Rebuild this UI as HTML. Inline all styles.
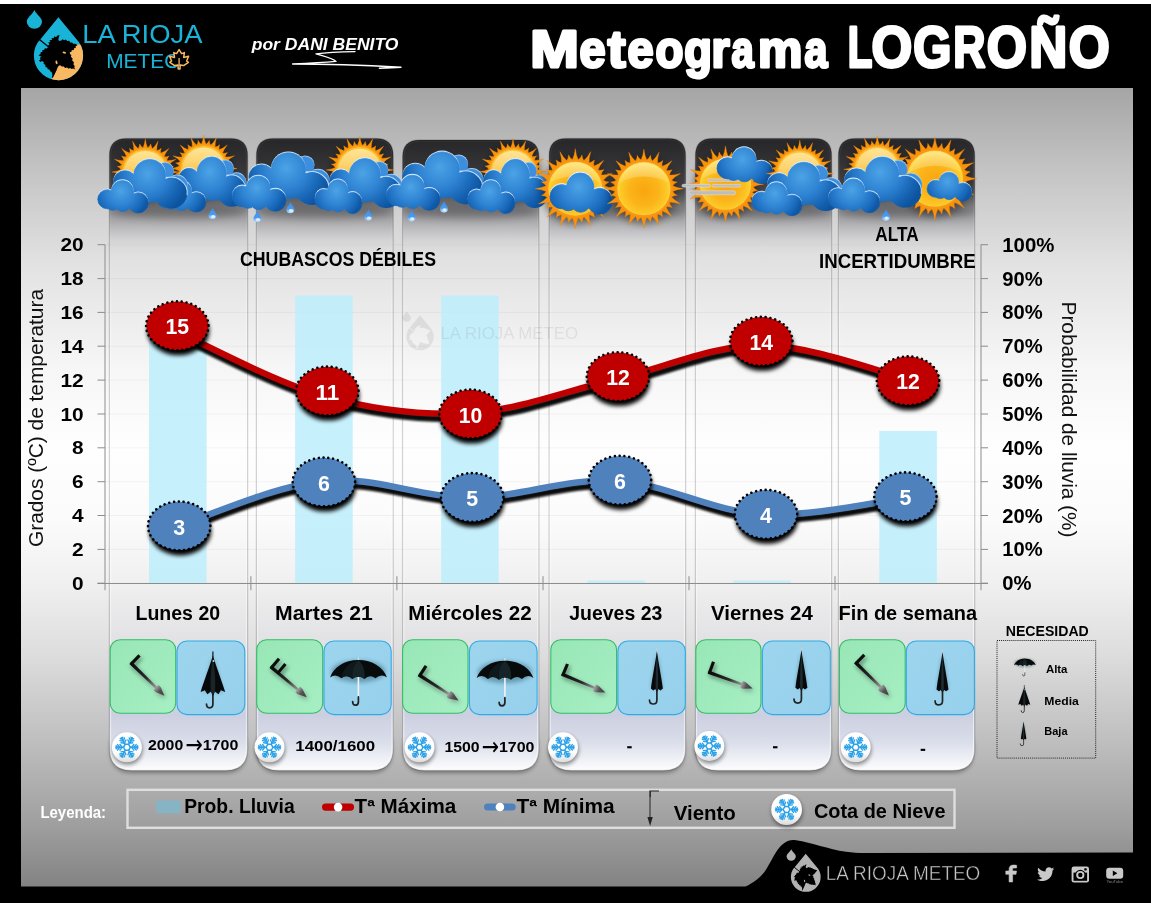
<!DOCTYPE html>
<html lang="es"><head><meta charset="utf-8"><title>Meteograma LOGROÑO</title>
<style>
html,body{margin:0;padding:0;background:#000;}
body{width:1151px;height:903px;overflow:hidden;font-family:"Liberation Sans",Arial,sans-serif;}
svg{display:block;}
text{font-family:"Liberation Sans",Arial,sans-serif;}
</style></head><body>
<svg width="1151" height="903" viewBox="0 0 1151 903">
<defs>
<linearGradient id="bgG" x1="0" y1="88" x2="0" y2="886" gradientUnits="userSpaceOnUse">
<stop offset="0" stop-color="#a5a5a5"/><stop offset="0.10" stop-color="#c3c3c3"/><stop offset="0.22" stop-color="#e2e2e2"/>
<stop offset="0.35" stop-color="#f6f6f6"/><stop offset="0.45" stop-color="#fefefe"/><stop offset="0.54" stop-color="#fbfbfb"/><stop offset="0.62" stop-color="#f0f0f0"/>
<stop offset="0.71" stop-color="#dddddd"/><stop offset="0.82" stop-color="#bebebe"/><stop offset="0.92" stop-color="#a0a0a0"/>
<stop offset="1" stop-color="#838383"/></linearGradient>
<linearGradient id="colG" x1="0" y1="138.5" x2="0" y2="770.5" gradientUnits="userSpaceOnUse">
<stop offset="0" stop-color="#262628" stop-opacity="1"/>
<stop offset="0.05" stop-color="#37373a" stop-opacity="1"/>
<stop offset="0.0815" stop-color="#47474b" stop-opacity="1"/>
<stop offset="0.097" stop-color="#646467" stop-opacity="1"/>
<stop offset="0.1116" stop-color="#838386" stop-opacity="1"/>
<stop offset="0.126" stop-color="#a1a1a4" stop-opacity="1"/>
<stop offset="0.145" stop-color="#bebec0" stop-opacity=".95"/>
<stop offset="0.16" stop-color="#d0d0d2" stop-opacity=".8"/>
<stop offset="0.18" stop-color="#dedee0" stop-opacity=".4"/>
<stop offset="0.20" stop-color="#e8e8ea" stop-opacity="0"/>
<stop offset="0.70" stop-color="#eceef4" stop-opacity="0"/>
<stop offset="0.775" stop-color="#e6e7ec" stop-opacity=".3"/>
<stop offset="0.855" stop-color="#d9dbe7" stop-opacity=".75"/>
<stop offset="0.912" stop-color="#cbcfe0" stop-opacity="1"/>
<stop offset="0.955" stop-color="#dadeea" stop-opacity="1"/>
<stop offset="1" stop-color="#fdfdfe" stop-opacity="1"/></linearGradient>
<linearGradient id="colS" x1="0" y1="138.5" x2="0" y2="770.5" gradientUnits="userSpaceOnUse"><stop offset="0" stop-color="#fff" stop-opacity="0.05"/><stop offset="0.2" stop-color="#fff" stop-opacity=".1"/><stop offset="0.3" stop-color="#fff" stop-opacity=".5"/><stop offset="1" stop-color="#fff" stop-opacity=".6"/></linearGradient>
<radialGradient id="sunD" cx="0" cy="2" r="27" gradientUnits="userSpaceOnUse">
<stop offset="0" stop-color="#f9a60e"/><stop offset="0.55" stop-color="#fbb41a"/><stop offset="0.85" stop-color="#fcc727"/><stop offset="1" stop-color="#fdd835"/></radialGradient>
<linearGradient id="sunH" x1="0" y1="-26" x2="0" y2="4" gradientUnits="userSpaceOnUse">
<stop offset="0" stop-color="#fff0c0" stop-opacity=".62"/><stop offset="1" stop-color="#ffe9a8" stop-opacity="0"/></linearGradient>
<radialGradient id="rayG" cx="0" cy="0" r="40" gradientUnits="userSpaceOnUse">
<stop offset="0.6" stop-color="#f78a00"/><stop offset="1" stop-color="#ff9e12"/></radialGradient>
<radialGradient id="cloudG" cx="34" cy="15" r="42" gradientUnits="userSpaceOnUse">
<stop offset="0" stop-color="#4ca3e5"/><stop offset="0.45" stop-color="#2f83d3"/><stop offset="0.8" stop-color="#1663b3"/><stop offset="1" stop-color="#0d549f"/></radialGradient>
<radialGradient id="cloudSG" cx="23" cy="11" r="28" gradientUnits="userSpaceOnUse">
<stop offset="0" stop-color="#4ca3e5"/><stop offset="0.5" stop-color="#2f83d3"/><stop offset="0.85" stop-color="#1868ba"/><stop offset="1" stop-color="#0f58a6"/></radialGradient>
<linearGradient id="dropG" x1="0" y1="0" x2="0" y2="11" gradientUnits="userSpaceOnUse">
<stop offset="0" stop-color="#3d8fe8"/><stop offset="0.6" stop-color="#4a9af0"/><stop offset="1" stop-color="#b5dcff"/></linearGradient>
<filter id="blur1" x="-20%" y="-20%" width="140%" height="160%"><feGaussianBlur stdDeviation="1.1"/></filter>
<filter id="blur2" x="-30%" y="-30%" width="160%" height="180%"><feGaussianBlur stdDeviation="2.2"/></filter>
<filter id="blur3" x="-30%" y="-30%" width="160%" height="180%"><feGaussianBlur stdDeviation="3.5"/></filter>
<filter id="blur6" x="-30%" y="-30%" width="160%" height="180%"><feGaussianBlur stdDeviation="6"/></filter>
<linearGradient id="greenG" x1="0" y1="0" x2="1" y2="1"><stop offset="0" stop-color="#98e6b6"/><stop offset="1" stop-color="#a6efc4"/></linearGradient>
<linearGradient id="blueG" x1="0" y1="0" x2="1" y2="1"><stop offset="0" stop-color="#9dd5ee"/><stop offset="1" stop-color="#97d0ec"/></linearGradient>
<linearGradient id="shaftG" x1="0" y1="0" x2="46" y2="0" gradientUnits="userSpaceOnUse">
<stop offset="0" stop-color="#0a0a0a"/><stop offset="0.45" stop-color="#2a2a2a"/><stop offset="0.75" stop-color="#9a9a9a"/><stop offset="0.85" stop-color="#555"/><stop offset="1" stop-color="#3a3a3a"/></linearGradient>
<linearGradient id="snowC" x1="0" y1="-15" x2="0" y2="15" gradientUnits="userSpaceOnUse">
<stop offset="0" stop-color="#ffffff"/><stop offset="0.7" stop-color="#fbfbfb"/><stop offset="1" stop-color="#dcdcdc"/></linearGradient>
<linearGradient id="umbG" x1="0" y1="0" x2="1" y2="0"><stop offset="0" stop-color="#050808"/><stop offset="0.4" stop-color="#1d2a2c"/><stop offset="0.6" stop-color="#0a1012"/><stop offset="1" stop-color="#000"/></linearGradient>

<linearGradient id="sunPD" x1="0" y1="-27" x2="0" y2="27" gradientUnits="userSpaceOnUse">
<stop offset="0" stop-color="#fee69c"/><stop offset="0.35" stop-color="#fdd572"/><stop offset="0.6" stop-color="#fcc445"/><stop offset="1" stop-color="#faad1a"/></linearGradient>
<g id="sun"><circle r="34" cy="2" fill="#000" opacity=".32" filter="url(#blur3)"/><path d="M-2.84,-28.86 Q-0.77,-32.67 0.00,-39.50 Q0.77,-32.67 2.84,-28.86 Q5.29,-30.29 6.63,-33.35 Q6.71,-30.01 8.42,-27.75 Q11.79,-30.47 15.12,-36.49 Q13.21,-29.88 13.67,-25.58 Q16.48,-25.96 18.89,-28.27 Q17.68,-25.16 18.40,-22.42 Q22.55,-23.64 27.93,-27.93 Q23.64,-22.55 22.42,-18.40 Q25.16,-17.68 28.27,-18.89 Q25.96,-16.48 25.58,-13.67 Q29.88,-13.21 36.49,-15.12 Q30.47,-11.79 27.75,-8.42 Q30.01,-6.71 33.35,-6.63 Q30.29,-5.29 28.86,-2.84 Q32.67,-0.77 39.50,0.00 Q32.67,0.77 28.86,2.84 Q30.29,5.29 33.35,6.63 Q30.01,6.71 27.75,8.42 Q30.47,11.79 36.49,15.12 Q29.88,13.21 25.58,13.67 Q25.96,16.48 28.27,18.89 Q25.16,17.68 22.42,18.40 Q23.64,22.55 27.93,27.93 Q22.55,23.64 18.40,22.42 Q17.68,25.16 18.89,28.27 Q16.48,25.96 13.67,25.58 Q13.21,29.88 15.12,36.49 Q11.79,30.47 8.42,27.75 Q6.71,30.01 6.63,33.35 Q5.29,30.29 2.84,28.86 Q0.77,32.67 0.00,39.50 Q-0.77,32.67 -2.84,28.86 Q-5.29,30.29 -6.63,33.35 Q-6.71,30.01 -8.42,27.75 Q-11.79,30.47 -15.12,36.49 Q-13.21,29.88 -13.67,25.58 Q-16.48,25.96 -18.89,28.27 Q-17.68,25.16 -18.40,22.42 Q-22.55,23.64 -27.93,27.93 Q-23.64,22.55 -22.42,18.40 Q-25.16,17.68 -28.27,18.89 Q-25.96,16.48 -25.58,13.67 Q-29.88,13.21 -36.49,15.12 Q-30.47,11.79 -27.75,8.42 Q-30.01,6.71 -33.35,6.63 Q-30.29,5.29 -28.86,2.84 Q-32.67,0.77 -39.50,0.00 Q-32.67,-0.77 -28.86,-2.84 Q-30.29,-5.29 -33.35,-6.63 Q-30.01,-6.71 -27.75,-8.42 Q-30.47,-11.79 -36.49,-15.12 Q-29.88,-13.21 -25.58,-13.67 Q-25.96,-16.48 -28.27,-18.89 Q-25.16,-17.68 -22.42,-18.40 Q-23.64,-22.55 -27.93,-27.93 Q-22.55,-23.64 -18.40,-22.42 Q-17.68,-25.16 -18.89,-28.27 Q-16.48,-25.96 -13.67,-25.58 Q-13.21,-29.88 -15.12,-36.49 Q-11.79,-30.47 -8.42,-27.75 Q-6.71,-30.01 -6.63,-33.35 Q-5.29,-30.29 -2.84,-28.86Z" fill="url(#rayG)" stroke="#f28200" stroke-width=".4"/>
<circle r="28.6" fill="#f7961a"/><circle r="26.6" fill="url(#sunD)"/>
<path d="M-24.5,-6 A25,25 0 0 1 24.5,-6 A40,30 0 0 0 -24.5,-6Z" fill="url(#sunH)"/></g>
<g id="sunP"><circle r="34" cy="2" fill="#000" opacity=".32" filter="url(#blur3)"/><path d="M-2.84,-28.86 Q-0.77,-32.67 0.00,-39.50 Q0.77,-32.67 2.84,-28.86 Q5.29,-30.29 6.63,-33.35 Q6.71,-30.01 8.42,-27.75 Q11.79,-30.47 15.12,-36.49 Q13.21,-29.88 13.67,-25.58 Q16.48,-25.96 18.89,-28.27 Q17.68,-25.16 18.40,-22.42 Q22.55,-23.64 27.93,-27.93 Q23.64,-22.55 22.42,-18.40 Q25.16,-17.68 28.27,-18.89 Q25.96,-16.48 25.58,-13.67 Q29.88,-13.21 36.49,-15.12 Q30.47,-11.79 27.75,-8.42 Q30.01,-6.71 33.35,-6.63 Q30.29,-5.29 28.86,-2.84 Q32.67,-0.77 39.50,0.00 Q32.67,0.77 28.86,2.84 Q30.29,5.29 33.35,6.63 Q30.01,6.71 27.75,8.42 Q30.47,11.79 36.49,15.12 Q29.88,13.21 25.58,13.67 Q25.96,16.48 28.27,18.89 Q25.16,17.68 22.42,18.40 Q23.64,22.55 27.93,27.93 Q22.55,23.64 18.40,22.42 Q17.68,25.16 18.89,28.27 Q16.48,25.96 13.67,25.58 Q13.21,29.88 15.12,36.49 Q11.79,30.47 8.42,27.75 Q6.71,30.01 6.63,33.35 Q5.29,30.29 2.84,28.86 Q0.77,32.67 0.00,39.50 Q-0.77,32.67 -2.84,28.86 Q-5.29,30.29 -6.63,33.35 Q-6.71,30.01 -8.42,27.75 Q-11.79,30.47 -15.12,36.49 Q-13.21,29.88 -13.67,25.58 Q-16.48,25.96 -18.89,28.27 Q-17.68,25.16 -18.40,22.42 Q-22.55,23.64 -27.93,27.93 Q-23.64,22.55 -22.42,18.40 Q-25.16,17.68 -28.27,18.89 Q-25.96,16.48 -25.58,13.67 Q-29.88,13.21 -36.49,15.12 Q-30.47,11.79 -27.75,8.42 Q-30.01,6.71 -33.35,6.63 Q-30.29,5.29 -28.86,2.84 Q-32.67,0.77 -39.50,0.00 Q-32.67,-0.77 -28.86,-2.84 Q-30.29,-5.29 -33.35,-6.63 Q-30.01,-6.71 -27.75,-8.42 Q-30.47,-11.79 -36.49,-15.12 Q-29.88,-13.21 -25.58,-13.67 Q-25.96,-16.48 -28.27,-18.89 Q-25.16,-17.68 -22.42,-18.40 Q-23.64,-22.55 -27.93,-27.93 Q-22.55,-23.64 -18.40,-22.42 Q-17.68,-25.16 -18.89,-28.27 Q-16.48,-25.96 -13.67,-25.58 Q-13.21,-29.88 -15.12,-36.49 Q-11.79,-30.47 -8.42,-27.75 Q-6.71,-30.01 -6.63,-33.35 Q-5.29,-30.29 -2.84,-28.86Z" fill="url(#rayG)" stroke="#f28200" stroke-width=".4"/>
<circle r="28.6" fill="#f8a11c"/><circle r="26.8" fill="#fbc334"/><circle r="25" fill="url(#sunPD)"/></g>
<g id="cloudB">
<g fill="#a9d3f5" transform="translate(0.3,-1.2)"><circle cx="51.3" cy="12.7" r="8.5"/><circle cx="63" cy="27.6" r="10.8"/></g><g fill="#3d8edc" stroke="#3d8edc" stroke-width=".7"><circle cx="51.3" cy="12.7" r="8.5"/><circle cx="63" cy="27.6" r="10.8"/></g>
<g fill="#d9ecfb" transform="translate(0,-1.25)"><circle cx="36.2" cy="16.5" r="16"/><circle cx="11.6" cy="23.4" r="11.6"/><circle cx="21" cy="32.5" r="10.3"/><circle cx="29" cy="32.5" r="10"/><circle cx="37" cy="33.5" r="10.3"/><circle cx="46" cy="34" r="9.5"/><rect x="11" y="19" width="48" height="21" rx="8"/></g><g fill="url(#cloudG)" stroke="url(#cloudG)" stroke-width=".7"><circle cx="36.2" cy="16.5" r="16"/><circle cx="11.6" cy="23.4" r="11.6"/><circle cx="21" cy="32.5" r="10.3"/><circle cx="29" cy="32.5" r="10"/><circle cx="37" cy="33.5" r="10.3"/><circle cx="46" cy="34" r="9.5"/><rect x="11" y="19" width="48" height="21" rx="8"/></g>
<g fill="url(#cloudG)"><circle cx="58" cy="34.2" r="15.6"/></g><path d="M52.2,19.4 A15.7,15.7 0 0 1 73.4,36" fill="none" stroke="#cfe6fa" stroke-width="1" stroke-linecap="round" opacity=".9"/>
</g>
<g id="cloudS"><g fill="#d9ecfb" transform="translate(0,-1.25)"><circle cx="9.6" cy="19" r="9.6"/><circle cx="24.6" cy="11.3" r="11.1"/><circle cx="40.4" cy="22.6" r="10.2"/><circle cx="25" cy="23.5" r="7.8"/><circle cx="15" cy="22.5" r="7.6"/><rect x="9" y="14" width="32" height="14" rx="5"/></g><g fill="url(#cloudSG)" stroke="url(#cloudSG)" stroke-width=".7"><circle cx="9.6" cy="19" r="9.6"/><circle cx="24.6" cy="11.3" r="11.1"/><circle cx="40.4" cy="22.6" r="10.2"/><circle cx="25" cy="23.5" r="7.8"/><circle cx="15" cy="22.5" r="7.6"/><rect x="9" y="14" width="32" height="14" rx="5"/></g></g>
<g id="drop"><path d="M4,0 C4.6,2.4 8,5 8,7.4 A4,3.8 0 0 1 0,7.4 C0,5 3.4,2.4 4,0Z" fill="url(#dropG)"/><ellipse cx="4.6" cy="8.6" rx="2.2" ry="1.6" fill="#e6f4ff" opacity=".9"/></g>
</defs>
<rect width="1151" height="903" fill="#000"/>
<rect width="1151" height="4" fill="#fff"/>
<rect x="21" y="88" width="1112" height="798.5" fill="url(#bgG)"/>
<line x1="105" y1="583.2" x2="981" y2="583.2" stroke="#000" stroke-opacity=".045" stroke-width="1"/>
<line x1="105" y1="549.4" x2="981" y2="549.4" stroke="#000" stroke-opacity=".045" stroke-width="1"/>
<line x1="105" y1="515.5" x2="981" y2="515.5" stroke="#000" stroke-opacity=".045" stroke-width="1"/>
<line x1="105" y1="481.7" x2="981" y2="481.7" stroke="#000" stroke-opacity=".045" stroke-width="1"/>
<line x1="105" y1="447.8" x2="981" y2="447.8" stroke="#000" stroke-opacity=".045" stroke-width="1"/>
<line x1="105" y1="414.0" x2="981" y2="414.0" stroke="#000" stroke-opacity=".045" stroke-width="1"/>
<line x1="105" y1="380.1" x2="981" y2="380.1" stroke="#000" stroke-opacity=".045" stroke-width="1"/>
<line x1="105" y1="346.2" x2="981" y2="346.2" stroke="#000" stroke-opacity=".045" stroke-width="1"/>
<line x1="105" y1="312.4" x2="981" y2="312.4" stroke="#000" stroke-opacity=".045" stroke-width="1"/>
<line x1="105" y1="278.6" x2="981" y2="278.6" stroke="#000" stroke-opacity=".045" stroke-width="1"/>
<line x1="105" y1="244.7" x2="981" y2="244.7" stroke="#000" stroke-opacity=".045" stroke-width="1"/>
<rect x="149.0" y="329.3" width="57.6" height="253.9" fill="#beeefd" fill-opacity=".86"/>
<rect x="295.1" y="295.5" width="57.6" height="287.7" fill="#beeefd" fill-opacity=".86"/>
<rect x="441.1" y="295.5" width="57.6" height="287.7" fill="#beeefd" fill-opacity=".86"/>
<rect x="587.2" y="580.5" width="57.6" height="2.7" fill="#beeefd" fill-opacity=".86"/>
<rect x="733.2" y="580.5" width="57.6" height="2.7" fill="#beeefd" fill-opacity=".86"/>
<rect x="879.3" y="430.9" width="57.6" height="152.3" fill="#beeefd" fill-opacity=".86"/>
<path d="M110.4,747.5 Q110.4,730.5 127.4,730.5 L229.6,730.5 Q246.6,730.5 246.6,747.5 L246.6,751.0 Q246.6,773.0 224.6,773.0 L132.4,773.0 Q110.4,773.0 110.4,751.0Z" fill="#000" opacity=".35" filter="url(#blur2)"/>
<path d="M257.4,747.5 Q257.4,730.5 274.4,730.5 L375.2,730.5 Q392.2,730.5 392.2,747.5 L392.2,751.0 Q392.2,773.0 370.2,773.0 L279.4,773.0 Q257.4,773.0 257.4,751.0Z" fill="#000" opacity=".35" filter="url(#blur2)"/>
<path d="M403.6,747.5 Q403.6,730.5 420.6,730.5 L520.9,730.5 Q537.9,730.5 537.9,747.5 L537.9,751.0 Q537.9,773.0 515.9,773.0 L425.6,773.0 Q403.6,773.0 403.6,751.0Z" fill="#000" opacity=".35" filter="url(#blur2)"/>
<path d="M550.1,747.5 Q550.1,730.5 567.1,730.5 L667.6,730.5 Q684.6,730.5 684.6,747.5 L684.6,751.0 Q684.6,773.0 662.6,773.0 L572.1,773.0 Q550.1,773.0 550.1,751.0Z" fill="#000" opacity=".35" filter="url(#blur2)"/>
<path d="M696.4,747.5 Q696.4,730.5 713.4,730.5 L813.6,730.5 Q830.6,730.5 830.6,747.5 L830.6,751.0 Q830.6,773.0 808.6,773.0 L718.4,773.0 Q696.4,773.0 696.4,751.0Z" fill="#000" opacity=".35" filter="url(#blur2)"/>
<path d="M839.4,747.5 Q839.4,730.5 856.4,730.5 L956.7,730.5 Q973.7,730.5 973.7,747.5 L973.7,751.0 Q973.7,773.0 951.7,773.0 L861.4,773.0 Q839.4,773.0 839.4,751.0Z" fill="#000" opacity=".35" filter="url(#blur2)"/>
<path d="M109.4,155.5 Q109.4,138.5 126.4,138.5 L230.6,138.5 Q247.6,138.5 247.6,155.5 L247.6,748.5 Q247.6,770.5 225.6,770.5 L131.4,770.5 Q109.4,770.5 109.4,748.5Z" fill="url(#colG)" stroke="#000" stroke-opacity=".17" stroke-width="1.3"/>
<path d="M110.60000000000001,155.7 Q110.60000000000001,139.7 126.60000000000001,139.7 L230.4,139.7 Q246.4,139.7 246.4,155.7 L246.4,748.3 Q246.4,769.3 225.4,769.3 L131.60000000000002,769.3 Q110.60000000000001,769.3 110.60000000000001,748.3Z" fill="none" stroke="url(#colS)" stroke-width="1"/>
<path d="M256.4,155.5 Q256.4,138.5 273.4,138.5 L376.2,138.5 Q393.2,138.5 393.2,155.5 L393.2,748.5 Q393.2,770.5 371.2,770.5 L278.4,770.5 Q256.4,770.5 256.4,748.5Z" fill="url(#colG)" stroke="#000" stroke-opacity=".17" stroke-width="1.3"/>
<path d="M257.59999999999997,155.7 Q257.59999999999997,139.7 273.59999999999997,139.7 L376.0,139.7 Q392.0,139.7 392.0,155.7 L392.0,748.3 Q392.0,769.3 371.0,769.3 L278.59999999999997,769.3 Q257.59999999999997,769.3 257.59999999999997,748.3Z" fill="none" stroke="url(#colS)" stroke-width="1"/>
<path d="M402.6,157.0 Q402.6,140.0 419.6,140.0 L521.9,140.0 Q538.9,140.0 538.9,157.0 L538.9,748.5 Q538.9,770.5 516.9,770.5 L424.6,770.5 Q402.6,770.5 402.6,748.5Z" fill="url(#colG)" stroke="#000" stroke-opacity=".17" stroke-width="1.3"/>
<path d="M403.8,157.2 Q403.8,141.2 419.8,141.2 L521.6999999999999,141.2 Q537.6999999999999,141.2 537.6999999999999,157.2 L537.6999999999999,748.3 Q537.6999999999999,769.3 516.6999999999999,769.3 L424.8,769.3 Q403.8,769.3 403.8,748.3Z" fill="none" stroke="url(#colS)" stroke-width="1"/>
<path d="M549.1,155.5 Q549.1,138.5 566.1,138.5 L668.6,138.5 Q685.6,138.5 685.6,155.5 L685.6,748.5 Q685.6,770.5 663.6,770.5 L571.1,770.5 Q549.1,770.5 549.1,748.5Z" fill="url(#colG)" stroke="#000" stroke-opacity=".17" stroke-width="1.3"/>
<path d="M550.3000000000001,155.7 Q550.3000000000001,139.7 566.3000000000001,139.7 L668.4,139.7 Q684.4,139.7 684.4,155.7 L684.4,748.3 Q684.4,769.3 663.4,769.3 L571.3000000000001,769.3 Q550.3000000000001,769.3 550.3000000000001,748.3Z" fill="none" stroke="url(#colS)" stroke-width="1"/>
<path d="M695.4,155.5 Q695.4,138.5 712.4,138.5 L814.6,138.5 Q831.6,138.5 831.6,155.5 L831.6,748.5 Q831.6,770.5 809.6,770.5 L717.4,770.5 Q695.4,770.5 695.4,748.5Z" fill="url(#colG)" stroke="#000" stroke-opacity=".17" stroke-width="1.3"/>
<path d="M696.6,155.7 Q696.6,139.7 712.6,139.7 L814.4,139.7 Q830.4,139.7 830.4,155.7 L830.4,748.3 Q830.4,769.3 809.4,769.3 L717.6,769.3 Q696.6,769.3 696.6,748.3Z" fill="none" stroke="url(#colS)" stroke-width="1"/>
<path d="M838.4,155.5 Q838.4,138.5 855.4,138.5 L957.7,138.5 Q974.7,138.5 974.7,155.5 L974.7,748.5 Q974.7,770.5 952.7,770.5 L860.4,770.5 Q838.4,770.5 838.4,748.5Z" fill="url(#colG)" stroke="#000" stroke-opacity=".17" stroke-width="1.3"/>
<path d="M839.6,155.7 Q839.6,139.7 855.6,139.7 L957.5,139.7 Q973.5,139.7 973.5,155.7 L973.5,748.3 Q973.5,769.3 952.5,769.3 L860.6,769.3 Q839.6,769.3 839.6,748.3Z" fill="none" stroke="url(#colS)" stroke-width="1"/>
<line x1="105" y1="244.7" x2="105" y2="590.2" stroke="#8c8c8c" stroke-width="1"/>
<line x1="981" y1="244.7" x2="981" y2="590.2" stroke="#8c8c8c" stroke-width="1"/>
<line x1="97.5" y1="583.5" x2="988" y2="583.5" stroke="#8c8c8c" stroke-width="1"/>
<line x1="97.5" y1="583.2" x2="105" y2="583.2" stroke="#8c8c8c" stroke-width="1"/>
<line x1="981" y1="583.2" x2="988" y2="583.2" stroke="#8c8c8c" stroke-width="1"/>
<text x="83.6" y="589.8" font-size="18.5" font-weight="bold" fill="#000" text-anchor="end" textLength="11.6" lengthAdjust="spacingAndGlyphs" >0</text>
<text x="1002.2" y="590.2" font-size="19.4" font-weight="bold" fill="#000" text-anchor="start" textLength="29.3" lengthAdjust="spacingAndGlyphs" >0%</text>
<line x1="97.5" y1="549.4" x2="105" y2="549.4" stroke="#8c8c8c" stroke-width="1"/>
<line x1="981" y1="549.4" x2="988" y2="549.4" stroke="#8c8c8c" stroke-width="1"/>
<text x="83.6" y="556.0" font-size="18.5" font-weight="bold" fill="#000" text-anchor="end" textLength="11.6" lengthAdjust="spacingAndGlyphs" >2</text>
<text x="1002.2" y="556.4" font-size="19.4" font-weight="bold" fill="#000" text-anchor="start" textLength="40.4" lengthAdjust="spacingAndGlyphs" >10%</text>
<line x1="97.5" y1="515.5" x2="105" y2="515.5" stroke="#8c8c8c" stroke-width="1"/>
<line x1="981" y1="515.5" x2="988" y2="515.5" stroke="#8c8c8c" stroke-width="1"/>
<text x="83.6" y="522.1" font-size="18.5" font-weight="bold" fill="#000" text-anchor="end" textLength="11.6" lengthAdjust="spacingAndGlyphs" >4</text>
<text x="1002.2" y="522.5" font-size="19.4" font-weight="bold" fill="#000" text-anchor="start" textLength="40.4" lengthAdjust="spacingAndGlyphs" >20%</text>
<line x1="97.5" y1="481.7" x2="105" y2="481.7" stroke="#8c8c8c" stroke-width="1"/>
<line x1="981" y1="481.7" x2="988" y2="481.7" stroke="#8c8c8c" stroke-width="1"/>
<text x="83.6" y="488.3" font-size="18.5" font-weight="bold" fill="#000" text-anchor="end" textLength="11.6" lengthAdjust="spacingAndGlyphs" >6</text>
<text x="1002.2" y="488.7" font-size="19.4" font-weight="bold" fill="#000" text-anchor="start" textLength="40.4" lengthAdjust="spacingAndGlyphs" >30%</text>
<line x1="97.5" y1="447.8" x2="105" y2="447.8" stroke="#8c8c8c" stroke-width="1"/>
<line x1="981" y1="447.8" x2="988" y2="447.8" stroke="#8c8c8c" stroke-width="1"/>
<text x="83.6" y="454.4" font-size="18.5" font-weight="bold" fill="#000" text-anchor="end" textLength="11.6" lengthAdjust="spacingAndGlyphs" >8</text>
<text x="1002.2" y="454.8" font-size="19.4" font-weight="bold" fill="#000" text-anchor="start" textLength="40.4" lengthAdjust="spacingAndGlyphs" >40%</text>
<line x1="97.5" y1="414.0" x2="105" y2="414.0" stroke="#8c8c8c" stroke-width="1"/>
<line x1="981" y1="414.0" x2="988" y2="414.0" stroke="#8c8c8c" stroke-width="1"/>
<text x="83.6" y="420.6" font-size="18.5" font-weight="bold" fill="#000" text-anchor="end" textLength="23.2" lengthAdjust="spacingAndGlyphs" >10</text>
<text x="1002.2" y="421.0" font-size="19.4" font-weight="bold" fill="#000" text-anchor="start" textLength="40.4" lengthAdjust="spacingAndGlyphs" >50%</text>
<line x1="97.5" y1="380.1" x2="105" y2="380.1" stroke="#8c8c8c" stroke-width="1"/>
<line x1="981" y1="380.1" x2="988" y2="380.1" stroke="#8c8c8c" stroke-width="1"/>
<text x="83.6" y="386.7" font-size="18.5" font-weight="bold" fill="#000" text-anchor="end" textLength="23.2" lengthAdjust="spacingAndGlyphs" >12</text>
<text x="1002.2" y="387.1" font-size="19.4" font-weight="bold" fill="#000" text-anchor="start" textLength="40.4" lengthAdjust="spacingAndGlyphs" >60%</text>
<line x1="97.5" y1="346.2" x2="105" y2="346.2" stroke="#8c8c8c" stroke-width="1"/>
<line x1="981" y1="346.2" x2="988" y2="346.2" stroke="#8c8c8c" stroke-width="1"/>
<text x="83.6" y="352.9" font-size="18.5" font-weight="bold" fill="#000" text-anchor="end" textLength="23.2" lengthAdjust="spacingAndGlyphs" >14</text>
<text x="1002.2" y="353.2" font-size="19.4" font-weight="bold" fill="#000" text-anchor="start" textLength="40.4" lengthAdjust="spacingAndGlyphs" >70%</text>
<line x1="97.5" y1="312.4" x2="105" y2="312.4" stroke="#8c8c8c" stroke-width="1"/>
<line x1="981" y1="312.4" x2="988" y2="312.4" stroke="#8c8c8c" stroke-width="1"/>
<text x="83.6" y="319.0" font-size="18.5" font-weight="bold" fill="#000" text-anchor="end" textLength="23.2" lengthAdjust="spacingAndGlyphs" >16</text>
<text x="1002.2" y="319.4" font-size="19.4" font-weight="bold" fill="#000" text-anchor="start" textLength="40.4" lengthAdjust="spacingAndGlyphs" >80%</text>
<line x1="97.5" y1="278.6" x2="105" y2="278.6" stroke="#8c8c8c" stroke-width="1"/>
<line x1="981" y1="278.6" x2="988" y2="278.6" stroke="#8c8c8c" stroke-width="1"/>
<text x="83.6" y="285.2" font-size="18.5" font-weight="bold" fill="#000" text-anchor="end" textLength="23.2" lengthAdjust="spacingAndGlyphs" >18</text>
<text x="1002.2" y="285.6" font-size="19.4" font-weight="bold" fill="#000" text-anchor="start" textLength="40.4" lengthAdjust="spacingAndGlyphs" >90%</text>
<line x1="97.5" y1="244.7" x2="105" y2="244.7" stroke="#8c8c8c" stroke-width="1"/>
<line x1="981" y1="244.7" x2="988" y2="244.7" stroke="#8c8c8c" stroke-width="1"/>
<text x="83.6" y="251.3" font-size="18.5" font-weight="bold" fill="#000" text-anchor="end" textLength="23.2" lengthAdjust="spacingAndGlyphs" >20</text>
<text x="1002.2" y="251.7" font-size="19.4" font-weight="bold" fill="#000" text-anchor="start" textLength="52.2" lengthAdjust="spacingAndGlyphs" >100%</text>
<line x1="250.9" y1="576.2" x2="250.9" y2="590.2" stroke="#8c8c8c" stroke-width="1"/>
<line x1="396.9" y1="576.2" x2="396.9" y2="590.2" stroke="#8c8c8c" stroke-width="1"/>
<line x1="543.0" y1="576.2" x2="543.0" y2="590.2" stroke="#8c8c8c" stroke-width="1"/>
<line x1="689.0" y1="576.2" x2="689.0" y2="590.2" stroke="#8c8c8c" stroke-width="1"/>
<line x1="835.0" y1="576.2" x2="835.0" y2="590.2" stroke="#8c8c8c" stroke-width="1"/>
<text transform="translate(43.2,547) rotate(-90)" font-size="21" fill="#111" textLength="258" lengthAdjust="spacingAndGlyphs">Grados (ºC) de temperatura</text>
<text transform="translate(1061.5,301.5) rotate(90)" font-size="21" fill="#111" textLength="236" lengthAdjust="spacingAndGlyphs">Probabilidad de lluvia (%)</text>
<text x="240" y="266.2" font-size="19.5" font-weight="bold" fill="#000" text-anchor="start" textLength="196" lengthAdjust="spacingAndGlyphs" >CHUBASCOS DÉBILES</text>
<text x="875.3" y="240.5" font-size="19.5" font-weight="bold" fill="#000" text-anchor="start" textLength="43.4" lengthAdjust="spacingAndGlyphs" >ALTA</text>
<text x="819" y="268" font-size="19.5" font-weight="bold" fill="#000" text-anchor="start" textLength="156.6" lengthAdjust="spacingAndGlyphs" >INCERTIDUMBRE</text>
<text x="135.5" y="619.8" font-size="19.5" font-weight="bold" fill="#000" text-anchor="start" textLength="84.6" lengthAdjust="spacingAndGlyphs" >Lunes 20</text>
<text x="275.0" y="619.8" font-size="19.5" font-weight="bold" fill="#000" text-anchor="start" textLength="97.8" lengthAdjust="spacingAndGlyphs" >Martes 21</text>
<text x="408.3" y="619.8" font-size="19.5" font-weight="bold" fill="#000" text-anchor="start" textLength="123.3" lengthAdjust="spacingAndGlyphs" >Miércoles 22</text>
<text x="569.2" y="619.8" font-size="19.5" font-weight="bold" fill="#000" text-anchor="start" textLength="93.1" lengthAdjust="spacingAndGlyphs" >Jueves 23</text>
<text x="711.0" y="619.8" font-size="19.5" font-weight="bold" fill="#000" text-anchor="start" textLength="101.8" lengthAdjust="spacingAndGlyphs" >Viernes 24</text>
<text x="838.5" y="619.8" font-size="19.5" font-weight="bold" fill="#000" text-anchor="start" textLength="138.5" lengthAdjust="spacingAndGlyphs" >Fin de semana</text>
<path d="M177.8,332.2 C202.2,342.8 275.2,382.6 323.9,396.0 C372.6,409.5 421.2,415.8 469.9,413.0 C518.6,410.1 567.3,390.4 616.0,379.1 C664.7,367.8 713.3,345.2 762.0,345.2 C810.7,345.2 883.7,373.5 908.1,379.1" transform="translate(1.2,5)" fill="none" stroke="#000" stroke-width="6.6" stroke-linecap="round" filter="url(#blur1)" opacity=".95"/>
<path d="M177.8,332.2 C202.2,342.8 275.2,382.6 323.9,396.0 C372.6,409.5 421.2,415.8 469.9,413.0 C518.6,410.1 567.3,390.4 616.0,379.1 C664.7,367.8 713.3,345.2 762.0,345.2 C810.7,345.2 883.7,373.5 908.1,379.1" fill="none" stroke="#c00000" stroke-width="6.4" stroke-linecap="round"/>
<ellipse cx="178.3" cy="330.8" rx="31" ry="24.5" fill="#000" filter="url(#blur2)"/>
<ellipse cx="177.3" cy="325.8" rx="31" ry="24.2" fill="#c00000"/>
<ellipse cx="177.3" cy="325.8" rx="31.2" ry="24.4" fill="none" stroke="#000" stroke-width="2.6" stroke-linecap="round" stroke-dasharray="0.01 4.83"/>
<text x="177.3" y="334.4" font-size="21.6" font-weight="bold" fill="#fff" text-anchor="middle" textLength="23.6" lengthAdjust="spacingAndGlyphs" >15</text>
<ellipse cx="328.3" cy="396" rx="31" ry="24.5" fill="#000" filter="url(#blur2)"/>
<ellipse cx="327.3" cy="391" rx="31" ry="24.2" fill="#c00000"/>
<ellipse cx="327.3" cy="391" rx="31.2" ry="24.4" fill="none" stroke="#000" stroke-width="2.6" stroke-linecap="round" stroke-dasharray="0.01 4.83"/>
<text x="327.3" y="399.6" font-size="21.6" font-weight="bold" fill="#fff" text-anchor="middle" textLength="23.6" lengthAdjust="spacingAndGlyphs" >11</text>
<ellipse cx="471.5" cy="419" rx="31" ry="24.5" fill="#000" filter="url(#blur2)"/>
<ellipse cx="470.5" cy="414" rx="31" ry="24.2" fill="#c00000"/>
<ellipse cx="470.5" cy="414" rx="31.2" ry="24.4" fill="none" stroke="#000" stroke-width="2.6" stroke-linecap="round" stroke-dasharray="0.01 4.83"/>
<text x="470.5" y="422.6" font-size="21.6" font-weight="bold" fill="#fff" text-anchor="middle" textLength="23.6" lengthAdjust="spacingAndGlyphs" >10</text>
<ellipse cx="619" cy="381.6" rx="31" ry="24.5" fill="#000" filter="url(#blur2)"/>
<ellipse cx="618" cy="376.6" rx="31" ry="24.2" fill="#c00000"/>
<ellipse cx="618" cy="376.6" rx="31.2" ry="24.4" fill="none" stroke="#000" stroke-width="2.6" stroke-linecap="round" stroke-dasharray="0.01 4.83"/>
<text x="618" y="385.2" font-size="21.6" font-weight="bold" fill="#fff" text-anchor="middle" textLength="23.6" lengthAdjust="spacingAndGlyphs" >12</text>
<ellipse cx="762.2" cy="346.3" rx="31" ry="24.5" fill="#000" filter="url(#blur2)"/>
<ellipse cx="761.2" cy="341.3" rx="31" ry="24.2" fill="#c00000"/>
<ellipse cx="761.2" cy="341.3" rx="31.2" ry="24.4" fill="none" stroke="#000" stroke-width="2.6" stroke-linecap="round" stroke-dasharray="0.01 4.83"/>
<text x="761.2" y="349.9" font-size="21.6" font-weight="bold" fill="#fff" text-anchor="middle" textLength="23.6" lengthAdjust="spacingAndGlyphs" >14</text>
<ellipse cx="909" cy="385.8" rx="31" ry="24.5" fill="#000" filter="url(#blur2)"/>
<ellipse cx="908" cy="380.8" rx="31" ry="24.2" fill="#c00000"/>
<ellipse cx="908" cy="380.8" rx="31.2" ry="24.4" fill="none" stroke="#000" stroke-width="2.6" stroke-linecap="round" stroke-dasharray="0.01 4.83"/>
<text x="908" y="389.4" font-size="21.6" font-weight="bold" fill="#fff" text-anchor="middle" textLength="23.6" lengthAdjust="spacingAndGlyphs" >12</text>
<path d="M177.8,526.0 C202.2,518.4 275.2,485.4 323.9,480.7 C372.6,475.9 421.2,497.6 469.9,497.6 C518.6,497.6 567.3,477.8 616.0,480.7 C664.7,483.5 713.3,511.7 762.0,514.5 C810.7,517.3 883.7,500.4 908.1,497.6" transform="translate(1.2,5)" fill="none" stroke="#000" stroke-width="6.6" stroke-linecap="round" filter="url(#blur1)" opacity=".95"/>
<path d="M177.8,526.0 C202.2,518.4 275.2,485.4 323.9,480.7 C372.6,475.9 421.2,497.6 469.9,497.6 C518.6,497.6 567.3,477.8 616.0,480.7 C664.7,483.5 713.3,511.7 762.0,514.5 C810.7,517.3 883.7,500.4 908.1,497.6" fill="none" stroke="#4f81bd" stroke-width="6.4" stroke-linecap="round"/>
<ellipse cx="180.2" cy="530.9" rx="31" ry="24.5" fill="#000" filter="url(#blur2)"/>
<ellipse cx="179.2" cy="525.9" rx="31" ry="24.2" fill="#4f81bd"/>
<ellipse cx="179.2" cy="525.9" rx="31.2" ry="24.4" fill="none" stroke="#000" stroke-width="2.6" stroke-linecap="round" stroke-dasharray="0.01 4.83"/>
<text x="179.2" y="534.5" font-size="21.6" font-weight="bold" fill="#fff" text-anchor="middle" textLength="11.9" lengthAdjust="spacingAndGlyphs" >3</text>
<ellipse cx="324.9" cy="487" rx="31" ry="24.5" fill="#000" filter="url(#blur2)"/>
<ellipse cx="323.9" cy="482" rx="31" ry="24.2" fill="#4f81bd"/>
<ellipse cx="323.9" cy="482" rx="31.2" ry="24.4" fill="none" stroke="#000" stroke-width="2.6" stroke-linecap="round" stroke-dasharray="0.01 4.83"/>
<text x="323.9" y="490.6" font-size="21.6" font-weight="bold" fill="#fff" text-anchor="middle" textLength="11.9" lengthAdjust="spacingAndGlyphs" >6</text>
<ellipse cx="473.2" cy="502.5" rx="31" ry="24.5" fill="#000" filter="url(#blur2)"/>
<ellipse cx="472.2" cy="497.5" rx="31" ry="24.2" fill="#4f81bd"/>
<ellipse cx="472.2" cy="497.5" rx="31.2" ry="24.4" fill="none" stroke="#000" stroke-width="2.6" stroke-linecap="round" stroke-dasharray="0.01 4.83"/>
<text x="472.2" y="506.1" font-size="21.6" font-weight="bold" fill="#fff" text-anchor="middle" textLength="11.9" lengthAdjust="spacingAndGlyphs" >5</text>
<ellipse cx="621" cy="485.2" rx="31" ry="24.5" fill="#000" filter="url(#blur2)"/>
<ellipse cx="620" cy="480.2" rx="31" ry="24.2" fill="#4f81bd"/>
<ellipse cx="620" cy="480.2" rx="31.2" ry="24.4" fill="none" stroke="#000" stroke-width="2.6" stroke-linecap="round" stroke-dasharray="0.01 4.83"/>
<text x="620" y="488.8" font-size="21.6" font-weight="bold" fill="#fff" text-anchor="middle" textLength="11.9" lengthAdjust="spacingAndGlyphs" >6</text>
<ellipse cx="767" cy="519.3" rx="31" ry="24.5" fill="#000" filter="url(#blur2)"/>
<ellipse cx="766" cy="514.3" rx="31" ry="24.2" fill="#4f81bd"/>
<ellipse cx="766" cy="514.3" rx="31.2" ry="24.4" fill="none" stroke="#000" stroke-width="2.6" stroke-linecap="round" stroke-dasharray="0.01 4.83"/>
<text x="766" y="522.9" font-size="21.6" font-weight="bold" fill="#fff" text-anchor="middle" textLength="11.9" lengthAdjust="spacingAndGlyphs" >4</text>
<ellipse cx="906.4" cy="501.8" rx="31" ry="24.5" fill="#000" filter="url(#blur2)"/>
<ellipse cx="905.4" cy="496.8" rx="31" ry="24.2" fill="#4f81bd"/>
<ellipse cx="905.4" cy="496.8" rx="31.2" ry="24.4" fill="none" stroke="#000" stroke-width="2.6" stroke-linecap="round" stroke-dasharray="0.01 4.83"/>
<text x="905.4" y="505.4" font-size="21.6" font-weight="bold" fill="#fff" text-anchor="middle" textLength="11.9" lengthAdjust="spacingAndGlyphs" >5</text>
<g opacity=".2" filter="url(#blur3)" fill="#000">
<ellipse cx="178.5" cy="212" rx="66" ry="7"/>
<ellipse cx="324.79999999999995" cy="212" rx="66" ry="7"/>
<ellipse cx="470.75" cy="212" rx="66" ry="7"/>
<ellipse cx="617.35" cy="212" rx="66" ry="7"/>
<ellipse cx="763.5" cy="212" rx="66" ry="7"/>
<ellipse cx="906.55" cy="212" rx="66" ry="7"/>
</g>
<use href="#sunP" transform="translate(203.7,168.5) scale(0.844,0.844)"/><use href="#cloudB" transform="translate(178.4,156.4) scale(0.920,1.012)"/><use href="#cloudS" transform="translate(157.0,180.5) scale(0.970,0.961)"/><use href="#drop" transform="translate(208.5,207.9) scale(1.000,1.000)"/><use href="#sunP" transform="translate(145.3,172.0) scale(0.844,0.844)"/><use href="#cloudB" transform="translate(113.4,158.9) scale(1.004,0.998)"/><use href="#cloudS" transform="translate(97.8,180.3) scale(1.000,0.997)"/><use href="#cloudB" transform="translate(249.0,152.2) scale(1.088,1.062)"/><use href="#cloudS" transform="translate(232.0,175.8) scale(1.069,1.081)"/><use href="#drop" transform="translate(286.4,202.0) scale(1.000,1.000)"/><use href="#drop" transform="translate(253.4,210.9) scale(1.000,1.000)"/><use href="#sunP" transform="translate(359.8,169.9) scale(0.851,0.851)"/><use href="#cloudB" transform="translate(329.5,158.0) scale(0.978,1.006)"/><use href="#cloudS" transform="translate(314.8,179.5) scale(0.935,1.036)"/><use href="#drop" transform="translate(364.4,209.4) scale(1.000,1.000)"/><use href="#cloudB" transform="translate(402.7,151.4) scale(1.088,1.064)"/><use href="#cloudS" transform="translate(386.2,175.0) scale(1.065,1.075)"/><use href="#drop" transform="translate(440.0,201.3) scale(1.000,1.000)"/><use href="#drop" transform="translate(407.6,210.2) scale(1.000,1.000)"/><use href="#sunP" transform="translate(513.0,171.7) scale(0.841,0.841)"/><use href="#cloudB" transform="translate(483.2,158.8) scale(0.889,0.990)"/><use href="#cloudS" transform="translate(467.7,180.2) scale(0.937,1.015)"/><use href="#sun" transform="translate(575.3,188.7) scale(1.014,1.014)"/><use href="#cloudS" transform="translate(550.0,172.8) scale(1.228,1.260)"/><use href="#sun" transform="translate(643.9,188.7) scale(1.000,1.000)"/><use href="#sun" transform="translate(725.5,184.2) scale(0.964,0.964)"/><g fill="#bdbdbd" stroke="#e6e6e6" stroke-width=".5"><rect x="707.5" y="178.9" width="33" height="2.4" rx="1.2"/><rect x="682" y="184.3" width="28.4" height="2.8" rx="1.4"/><rect x="712" y="184.3" width="28.7" height="2.8" rx="1.4"/><rect x="689" y="190.8" width="46.5" height="4" rx="2"/></g><use href="#cloudS" transform="translate(717.0,147.4) scale(1.099,1.101)"/><use href="#sunP" transform="translate(799.8,173.6) scale(0.848,0.848)"/><use href="#cloudB" transform="translate(767.3,161.8) scale(1.008,0.988)"/><use href="#cloudS" transform="translate(751.8,182.4) scale(0.994,1.015)"/><use href="#sunP" transform="translate(877.3,169.3) scale(0.851,0.851)"/><use href="#sun" transform="translate(934.9,178.7) scale(1.058,1.058)"/><use href="#cloudB" transform="translate(844.4,156.6) scale(1.047,1.028)"/><use href="#cloudS" transform="translate(828.1,178.7) scale(1.024,1.036)"/><use href="#drop" transform="translate(882.0,209.5) scale(1.000,1.000)"/><use href="#cloudS" transform="translate(927.0,172.0) scale(0.887,0.884)"/>
<rect x="110.2" y="639.7" width="65.5" height="73.6" rx="10" fill="url(#greenG)" stroke="#35bd66" stroke-width="1.1"/>
<rect x="256.7" y="639.7" width="66.0" height="73.6" rx="10" fill="url(#greenG)" stroke="#35bd66" stroke-width="1.1"/>
<rect x="402.6" y="639.7" width="65.4" height="73.6" rx="10" fill="url(#greenG)" stroke="#35bd66" stroke-width="1.1"/>
<rect x="550.8" y="639.7" width="65.8" height="73.6" rx="10" fill="url(#greenG)" stroke="#35bd66" stroke-width="1.1"/>
<rect x="695.8" y="639.7" width="65.2" height="73.6" rx="10" fill="url(#greenG)" stroke="#35bd66" stroke-width="1.1"/>
<rect x="839.4" y="639.7" width="65.8" height="73.6" rx="10" fill="url(#greenG)" stroke="#35bd66" stroke-width="1.1"/>
<rect x="177.0" y="641" width="67.8" height="73.6" rx="10" fill="url(#blueG)" stroke="#2cabe6" stroke-width="1.1"/>
<rect x="324.0" y="641" width="67.2" height="73.6" rx="10" fill="url(#blueG)" stroke="#2cabe6" stroke-width="1.1"/>
<rect x="469.4" y="641" width="67.7" height="73.6" rx="10" fill="url(#blueG)" stroke="#2cabe6" stroke-width="1.1"/>
<rect x="617.9" y="641" width="67.4" height="73.6" rx="10" fill="url(#blueG)" stroke="#2cabe6" stroke-width="1.1"/>
<rect x="762.4" y="641" width="67.9" height="73.6" rx="10" fill="url(#blueG)" stroke="#2cabe6" stroke-width="1.1"/>
<rect x="906.3" y="641" width="68.1" height="73.6" rx="10" fill="url(#blueG)" stroke="#2cabe6" stroke-width="1.1"/>
<g transform="translate(133.0,666.1) rotate(44)" opacity=".5" filter="url(#blur2)"><path d="M-1.3,-1.7 L34,-1.1 L34.5,-3.6 L37.5,-3.3 L46,0.3 L36.5,3.9 L34.2,3.6 L34,1.3 L-1.3,1.7Z" fill="url(#shaftG)"/><path d="M-1.5,1 L-1.5,-11.5 L1.6,-11.5 L1.6,1Z" fill="#0c0c0c"/></g>
<g transform="translate(131.5,663.6) rotate(44)"><path d="M-1.3,-1.7 L34,-1.1 L34.5,-3.6 L37.5,-3.3 L46,0.3 L36.5,3.9 L34.2,3.6 L34,1.3 L-1.3,1.7Z" fill="url(#shaftG)"/><path d="M-1.5,1 L-1.5,-11.5 L1.6,-11.5 L1.6,1Z" fill="#0c0c0c"/></g>
<g transform="translate(273.1,670.0) rotate(39.9)" opacity=".5" filter="url(#blur2)"><path d="M-1.3,-1.7 L34,-1.1 L34.5,-3.6 L37.5,-3.3 L46,0.3 L36.5,3.9 L34.2,3.6 L34,1.3 L-1.3,1.7Z" fill="url(#shaftG)"/><path d="M-1.5,1 L-1.5,-11.5 L1.6,-11.5 L1.6,1Z" fill="#0c0c0c"/><path d="M6.800000000000001,1 L6.800000000000001,-11.5 L9.9,-11.5 L9.9,1Z" fill="#0c0c0c"/></g>
<g transform="translate(271.6,667.5) rotate(39.9)"><path d="M-1.3,-1.7 L34,-1.1 L34.5,-3.6 L37.5,-3.3 L46,0.3 L36.5,3.9 L34.2,3.6 L34,1.3 L-1.3,1.7Z" fill="url(#shaftG)"/><path d="M-1.5,1 L-1.5,-11.5 L1.6,-11.5 L1.6,1Z" fill="#0c0c0c"/><path d="M6.800000000000001,1 L6.800000000000001,-11.5 L9.9,-11.5 L9.9,1Z" fill="#0c0c0c"/></g>
<g transform="translate(421.3,678.0) rotate(32.5)" opacity=".5" filter="url(#blur2)"><path d="M-1.3,-1.7 L34,-1.1 L34.5,-3.6 L37.5,-3.3 L46,0.3 L36.5,3.9 L34.2,3.6 L34,1.3 L-1.3,1.7Z" fill="url(#shaftG)"/><path d="M-1.5,1 L-1.5,-11.5 L1.6,-11.5 L1.6,1Z" fill="#0c0c0c"/></g>
<g transform="translate(419.8,675.5) rotate(32.5)"><path d="M-1.3,-1.7 L34,-1.1 L34.5,-3.6 L37.5,-3.3 L46,0.3 L36.5,3.9 L34.2,3.6 L34,1.3 L-1.3,1.7Z" fill="url(#shaftG)"/><path d="M-1.5,1 L-1.5,-11.5 L1.6,-11.5 L1.6,1Z" fill="#0c0c0c"/></g>
<g transform="translate(564.5,677.1) rotate(22.6)" opacity=".5" filter="url(#blur2)"><path d="M-1.3,-1.7 L34,-1.1 L34.5,-3.6 L37.5,-3.3 L46,0.3 L36.5,3.9 L34.2,3.6 L34,1.3 L-1.3,1.7Z" fill="url(#shaftG)"/><path d="M-1.5,1 L-1.5,-11.5 L1.6,-11.5 L1.6,1Z" fill="#0c0c0c"/></g>
<g transform="translate(563,674.6) rotate(22.6)"><path d="M-1.3,-1.7 L34,-1.1 L34.5,-3.6 L37.5,-3.3 L46,0.3 L36.5,3.9 L34.2,3.6 L34,1.3 L-1.3,1.7Z" fill="url(#shaftG)"/><path d="M-1.5,1 L-1.5,-11.5 L1.6,-11.5 L1.6,1Z" fill="#0c0c0c"/></g>
<g transform="translate(711.0,675.0) rotate(20)" opacity=".5" filter="url(#blur2)"><path d="M-1.3,-1.7 L34,-1.1 L34.5,-3.6 L37.5,-3.3 L46,0.3 L36.5,3.9 L34.2,3.6 L34,1.3 L-1.3,1.7Z" fill="url(#shaftG)"/><path d="M-1.5,1 L-1.5,-11.5 L1.6,-11.5 L1.6,1Z" fill="#0c0c0c"/></g>
<g transform="translate(709.5,672.5) rotate(20)"><path d="M-1.3,-1.7 L34,-1.1 L34.5,-3.6 L37.5,-3.3 L46,0.3 L36.5,3.9 L34.2,3.6 L34,1.3 L-1.3,1.7Z" fill="url(#shaftG)"/><path d="M-1.5,1 L-1.5,-11.5 L1.6,-11.5 L1.6,1Z" fill="#0c0c0c"/></g>
<g transform="translate(857.7,665.6) rotate(44.3)" opacity=".5" filter="url(#blur2)"><path d="M-1.3,-1.7 L34,-1.1 L34.5,-3.6 L37.5,-3.3 L46,0.3 L36.5,3.9 L34.2,3.6 L34,1.3 L-1.3,1.7Z" fill="url(#shaftG)"/><path d="M-1.5,1 L-1.5,-11.5 L1.6,-11.5 L1.6,1Z" fill="#0c0c0c"/></g>
<g transform="translate(856.2,663.1) rotate(44.3)"><path d="M-1.3,-1.7 L34,-1.1 L34.5,-3.6 L37.5,-3.3 L46,0.3 L36.5,3.9 L34.2,3.6 L34,1.3 L-1.3,1.7Z" fill="url(#shaftG)"/><path d="M-1.5,1 L-1.5,-11.5 L1.6,-11.5 L1.6,1Z" fill="#0c0c0c"/></g>
<g transform="translate(212.9,651.6) scale(1.0)"><path d="M0,6 L-9,40 L9,40Z" fill="#06303c" opacity=".45" filter="url(#blur2)"/><path d="M0,40 L0,52.5 Q0,56.3 -3.3,56.3 Q-6.4,56.3 -6.4,52.5" fill="none" stroke="#222" stroke-width="1.7" stroke-linecap="round"/><path d="M0,0 L0,6" stroke="#222" stroke-width="1.3"/><path d="M0,4 C-3,14 -9,30 -12.3,40.5 L-8,38.6 L-5.5,42.6 L-2,40 L0,44.5 L2,40 L5.5,42.6 L8,38.6 L12.3,40.5 C9,30 3,14 0,4Z" fill="#07090a"/><path d="M0,5 C-1.5,15 -3,30 -2,40 L0,44 L2,40 C3,30 1.5,15 0,5Z" fill="#1f2d30" opacity=".8"/><circle cx="0.6" cy="9.5" r="1" fill="#cfd8da"/></g>
<g transform="translate(358.4,657.4) scale(1.0)"><ellipse cx="0" cy="14" rx="27" ry="11" fill="#06303c" opacity=".35" filter="url(#blur2)"/><path d="M0,19 L0,40.5" stroke="#f2f2f2" stroke-width="1.6"/><path d="M0,39.5 L0,44.5 Q0,47.8 -3,47.8 Q-5.8,47.8 -5.8,44.2" fill="none" stroke="#222" stroke-width="1.7" stroke-linecap="round"/><path d="M0,0 L0,4" stroke="#ddd" stroke-width="1.2"/><path d="M0,2.6 C-14,2.6 -25,10 -28.3,20 Q-23,15.6 -17,20.8 Q-11.5,16.4 -6,21.6 Q0,17 6,21.6 Q11.5,16.4 17,20.8 Q23,15.6 28.6,20 C25,10 14,2.6 0,2.6Z" fill="#070b0c"/><path d="M0,2.8 C-5,7 -7,14 -6,21.4 Q0,17 6,21.4 C7,14 5,7 0,2.8Z" fill="#1c2b2e" opacity=".8"/><path d="M0,2.8 C-10,5 -16,12 -17,20.6 Q-11.5,16.4 -6,21.4 C-7,14 -5,7 0,2.8Z" fill="#121c1e" opacity=".8"/></g>
<g transform="translate(504.9,658.1) scale(1.0)"><ellipse cx="0" cy="14" rx="27" ry="11" fill="#06303c" opacity=".35" filter="url(#blur2)"/><path d="M0,19 L0,40.5" stroke="#f2f2f2" stroke-width="1.6"/><path d="M0,39.5 L0,44.5 Q0,47.8 -3,47.8 Q-5.8,47.8 -5.8,44.2" fill="none" stroke="#222" stroke-width="1.7" stroke-linecap="round"/><path d="M0,0 L0,4" stroke="#ddd" stroke-width="1.2"/><path d="M0,2.6 C-14,2.6 -25,10 -28.3,20 Q-23,15.6 -17,20.8 Q-11.5,16.4 -6,21.6 Q0,17 6,21.6 Q11.5,16.4 17,20.8 Q23,15.6 28.6,20 C25,10 14,2.6 0,2.6Z" fill="#070b0c"/><path d="M0,2.8 C-5,7 -7,14 -6,21.4 Q0,17 6,21.4 C7,14 5,7 0,2.8Z" fill="#1c2b2e" opacity=".8"/><path d="M0,2.8 C-10,5 -16,12 -17,20.6 Q-11.5,16.4 -6,21.4 C-7,14 -5,7 0,2.8Z" fill="#121c1e" opacity=".8"/></g>
<g transform="translate(656.9,648) scale(1.0)"><path d="M0,6 L-5,40 L5,40Z" fill="#06303c" opacity=".45" filter="url(#blur2)"/><path d="M0,40 L0,52.2 Q0,56 -3.6,56 Q-7.4,56 -7.4,52" fill="none" stroke="#222" stroke-width="1.7" stroke-linecap="round"/><path d="M0,0 L0,6" stroke="#ccc" stroke-width="1.1"/><path d="M0,3 C-1.5,14 -4.6,30 -6,40.6 L-3.6,42.4 L-1.6,41 L0,43.6 L1.6,41 L3.6,42.4 L6,40.6 C4.6,30 1.5,14 0,3Z" fill="#07090a"/><path d="M0,4 C-0.8,15 -1.6,30 -1.2,41 L0,43 L1.2,41 C1.6,30 0.8,15 0,4Z" fill="#223336" opacity=".85"/></g>
<g transform="translate(801.4,647.1) scale(1.0)"><path d="M0,6 L-5,40 L5,40Z" fill="#06303c" opacity=".45" filter="url(#blur2)"/><path d="M0,40 L0,52.2 Q0,56 -3.6,56 Q-7.4,56 -7.4,52" fill="none" stroke="#222" stroke-width="1.7" stroke-linecap="round"/><path d="M0,0 L0,6" stroke="#ccc" stroke-width="1.1"/><path d="M0,3 C-1.5,14 -4.6,30 -6,40.6 L-3.6,42.4 L-1.6,41 L0,43.6 L1.6,41 L3.6,42.4 L6,40.6 C4.6,30 1.5,14 0,3Z" fill="#07090a"/><path d="M0,4 C-0.8,15 -1.6,30 -1.2,41 L0,43 L1.2,41 C1.6,30 0.8,15 0,4Z" fill="#223336" opacity=".85"/></g>
<g transform="translate(942.5,648.9) scale(1.0)"><path d="M0,6 L-5,40 L5,40Z" fill="#06303c" opacity=".45" filter="url(#blur2)"/><path d="M0,40 L0,52.2 Q0,56 -3.6,56 Q-7.4,56 -7.4,52" fill="none" stroke="#222" stroke-width="1.7" stroke-linecap="round"/><path d="M0,0 L0,6" stroke="#ccc" stroke-width="1.1"/><path d="M0,3 C-1.5,14 -4.6,30 -6,40.6 L-3.6,42.4 L-1.6,41 L0,43.6 L1.6,41 L3.6,42.4 L6,40.6 C4.6,30 1.5,14 0,3Z" fill="#07090a"/><path d="M0,4 C-0.8,15 -1.6,30 -1.2,41 L0,43 L1.2,41 C1.6,30 0.8,15 0,4Z" fill="#223336" opacity=".85"/></g>
<ellipse cx="127.4" cy="749.8" rx="15" ry="15" fill="#000" opacity=".45" filter="url(#blur2)"/><g transform="translate(126.9,747.3)"><circle r="15" fill="url(#snowC)"/></g><g transform="translate(126.9,747.3) scale(0.96)" stroke="#2aa2ea" stroke-width="1.45" stroke-linecap="round" fill="none"><g transform="rotate(30)"><path d="M0,-3.4 L0,-11.6 M0,-4.9 L-2.9,-7.2 M0,-4.9 L2.9,-7.2 M0,-7.3 L-2.8,-9.7 M0,-7.3 L2.8,-9.7 M0,-9.6 L-1.6,-11.2 M0,-9.6 L1.6,-11.2"/></g><g transform="rotate(90)"><path d="M0,-3.4 L0,-11.6 M0,-4.9 L-2.9,-7.2 M0,-4.9 L2.9,-7.2 M0,-7.3 L-2.8,-9.7 M0,-7.3 L2.8,-9.7 M0,-9.6 L-1.6,-11.2 M0,-9.6 L1.6,-11.2"/></g><g transform="rotate(150)"><path d="M0,-3.4 L0,-11.6 M0,-4.9 L-2.9,-7.2 M0,-4.9 L2.9,-7.2 M0,-7.3 L-2.8,-9.7 M0,-7.3 L2.8,-9.7 M0,-9.6 L-1.6,-11.2 M0,-9.6 L1.6,-11.2"/></g><g transform="rotate(210)"><path d="M0,-3.4 L0,-11.6 M0,-4.9 L-2.9,-7.2 M0,-4.9 L2.9,-7.2 M0,-7.3 L-2.8,-9.7 M0,-7.3 L2.8,-9.7 M0,-9.6 L-1.6,-11.2 M0,-9.6 L1.6,-11.2"/></g><g transform="rotate(270)"><path d="M0,-3.4 L0,-11.6 M0,-4.9 L-2.9,-7.2 M0,-4.9 L2.9,-7.2 M0,-7.3 L-2.8,-9.7 M0,-7.3 L2.8,-9.7 M0,-9.6 L-1.6,-11.2 M0,-9.6 L1.6,-11.2"/></g><g transform="rotate(330)"><path d="M0,-3.4 L0,-11.6 M0,-4.9 L-2.9,-7.2 M0,-4.9 L2.9,-7.2 M0,-7.3 L-2.8,-9.7 M0,-7.3 L2.8,-9.7 M0,-9.6 L-1.6,-11.2 M0,-9.6 L1.6,-11.2"/></g><polygon points="3.6,0 1.8,3.1 -1.8,3.1 -3.6,0 -1.8,-3.1 1.8,-3.1" stroke-width="1.5"/></g>
<ellipse cx="270.0" cy="749.8" rx="15" ry="15" fill="#000" opacity=".45" filter="url(#blur2)"/><g transform="translate(269.5,747.3)"><circle r="15" fill="url(#snowC)"/></g><g transform="translate(269.5,747.3) scale(0.96)" stroke="#2aa2ea" stroke-width="1.45" stroke-linecap="round" fill="none"><g transform="rotate(30)"><path d="M0,-3.4 L0,-11.6 M0,-4.9 L-2.9,-7.2 M0,-4.9 L2.9,-7.2 M0,-7.3 L-2.8,-9.7 M0,-7.3 L2.8,-9.7 M0,-9.6 L-1.6,-11.2 M0,-9.6 L1.6,-11.2"/></g><g transform="rotate(90)"><path d="M0,-3.4 L0,-11.6 M0,-4.9 L-2.9,-7.2 M0,-4.9 L2.9,-7.2 M0,-7.3 L-2.8,-9.7 M0,-7.3 L2.8,-9.7 M0,-9.6 L-1.6,-11.2 M0,-9.6 L1.6,-11.2"/></g><g transform="rotate(150)"><path d="M0,-3.4 L0,-11.6 M0,-4.9 L-2.9,-7.2 M0,-4.9 L2.9,-7.2 M0,-7.3 L-2.8,-9.7 M0,-7.3 L2.8,-9.7 M0,-9.6 L-1.6,-11.2 M0,-9.6 L1.6,-11.2"/></g><g transform="rotate(210)"><path d="M0,-3.4 L0,-11.6 M0,-4.9 L-2.9,-7.2 M0,-4.9 L2.9,-7.2 M0,-7.3 L-2.8,-9.7 M0,-7.3 L2.8,-9.7 M0,-9.6 L-1.6,-11.2 M0,-9.6 L1.6,-11.2"/></g><g transform="rotate(270)"><path d="M0,-3.4 L0,-11.6 M0,-4.9 L-2.9,-7.2 M0,-4.9 L2.9,-7.2 M0,-7.3 L-2.8,-9.7 M0,-7.3 L2.8,-9.7 M0,-9.6 L-1.6,-11.2 M0,-9.6 L1.6,-11.2"/></g><g transform="rotate(330)"><path d="M0,-3.4 L0,-11.6 M0,-4.9 L-2.9,-7.2 M0,-4.9 L2.9,-7.2 M0,-7.3 L-2.8,-9.7 M0,-7.3 L2.8,-9.7 M0,-9.6 L-1.6,-11.2 M0,-9.6 L1.6,-11.2"/></g><polygon points="3.6,0 1.8,3.1 -1.8,3.1 -3.6,0 -1.8,-3.1 1.8,-3.1" stroke-width="1.5"/></g>
<ellipse cx="420.0" cy="749.8" rx="15" ry="15" fill="#000" opacity=".45" filter="url(#blur2)"/><g transform="translate(419.5,747.3)"><circle r="15" fill="url(#snowC)"/></g><g transform="translate(419.5,747.3) scale(0.96)" stroke="#2aa2ea" stroke-width="1.45" stroke-linecap="round" fill="none"><g transform="rotate(30)"><path d="M0,-3.4 L0,-11.6 M0,-4.9 L-2.9,-7.2 M0,-4.9 L2.9,-7.2 M0,-7.3 L-2.8,-9.7 M0,-7.3 L2.8,-9.7 M0,-9.6 L-1.6,-11.2 M0,-9.6 L1.6,-11.2"/></g><g transform="rotate(90)"><path d="M0,-3.4 L0,-11.6 M0,-4.9 L-2.9,-7.2 M0,-4.9 L2.9,-7.2 M0,-7.3 L-2.8,-9.7 M0,-7.3 L2.8,-9.7 M0,-9.6 L-1.6,-11.2 M0,-9.6 L1.6,-11.2"/></g><g transform="rotate(150)"><path d="M0,-3.4 L0,-11.6 M0,-4.9 L-2.9,-7.2 M0,-4.9 L2.9,-7.2 M0,-7.3 L-2.8,-9.7 M0,-7.3 L2.8,-9.7 M0,-9.6 L-1.6,-11.2 M0,-9.6 L1.6,-11.2"/></g><g transform="rotate(210)"><path d="M0,-3.4 L0,-11.6 M0,-4.9 L-2.9,-7.2 M0,-4.9 L2.9,-7.2 M0,-7.3 L-2.8,-9.7 M0,-7.3 L2.8,-9.7 M0,-9.6 L-1.6,-11.2 M0,-9.6 L1.6,-11.2"/></g><g transform="rotate(270)"><path d="M0,-3.4 L0,-11.6 M0,-4.9 L-2.9,-7.2 M0,-4.9 L2.9,-7.2 M0,-7.3 L-2.8,-9.7 M0,-7.3 L2.8,-9.7 M0,-9.6 L-1.6,-11.2 M0,-9.6 L1.6,-11.2"/></g><g transform="rotate(330)"><path d="M0,-3.4 L0,-11.6 M0,-4.9 L-2.9,-7.2 M0,-4.9 L2.9,-7.2 M0,-7.3 L-2.8,-9.7 M0,-7.3 L2.8,-9.7 M0,-9.6 L-1.6,-11.2 M0,-9.6 L1.6,-11.2"/></g><polygon points="3.6,0 1.8,3.1 -1.8,3.1 -3.6,0 -1.8,-3.1 1.8,-3.1" stroke-width="1.5"/></g>
<ellipse cx="563.5" cy="749.8" rx="15" ry="15" fill="#000" opacity=".45" filter="url(#blur2)"/><g transform="translate(563,747.3)"><circle r="15" fill="url(#snowC)"/></g><g transform="translate(563,747.3) scale(0.96)" stroke="#2aa2ea" stroke-width="1.45" stroke-linecap="round" fill="none"><g transform="rotate(30)"><path d="M0,-3.4 L0,-11.6 M0,-4.9 L-2.9,-7.2 M0,-4.9 L2.9,-7.2 M0,-7.3 L-2.8,-9.7 M0,-7.3 L2.8,-9.7 M0,-9.6 L-1.6,-11.2 M0,-9.6 L1.6,-11.2"/></g><g transform="rotate(90)"><path d="M0,-3.4 L0,-11.6 M0,-4.9 L-2.9,-7.2 M0,-4.9 L2.9,-7.2 M0,-7.3 L-2.8,-9.7 M0,-7.3 L2.8,-9.7 M0,-9.6 L-1.6,-11.2 M0,-9.6 L1.6,-11.2"/></g><g transform="rotate(150)"><path d="M0,-3.4 L0,-11.6 M0,-4.9 L-2.9,-7.2 M0,-4.9 L2.9,-7.2 M0,-7.3 L-2.8,-9.7 M0,-7.3 L2.8,-9.7 M0,-9.6 L-1.6,-11.2 M0,-9.6 L1.6,-11.2"/></g><g transform="rotate(210)"><path d="M0,-3.4 L0,-11.6 M0,-4.9 L-2.9,-7.2 M0,-4.9 L2.9,-7.2 M0,-7.3 L-2.8,-9.7 M0,-7.3 L2.8,-9.7 M0,-9.6 L-1.6,-11.2 M0,-9.6 L1.6,-11.2"/></g><g transform="rotate(270)"><path d="M0,-3.4 L0,-11.6 M0,-4.9 L-2.9,-7.2 M0,-4.9 L2.9,-7.2 M0,-7.3 L-2.8,-9.7 M0,-7.3 L2.8,-9.7 M0,-9.6 L-1.6,-11.2 M0,-9.6 L1.6,-11.2"/></g><g transform="rotate(330)"><path d="M0,-3.4 L0,-11.6 M0,-4.9 L-2.9,-7.2 M0,-4.9 L2.9,-7.2 M0,-7.3 L-2.8,-9.7 M0,-7.3 L2.8,-9.7 M0,-9.6 L-1.6,-11.2 M0,-9.6 L1.6,-11.2"/></g><polygon points="3.6,0 1.8,3.1 -1.8,3.1 -3.6,0 -1.8,-3.1 1.8,-3.1" stroke-width="1.5"/></g>
<ellipse cx="709.8" cy="748.5" rx="15" ry="15" fill="#000" opacity=".45" filter="url(#blur2)"/><g transform="translate(709.3,746)"><circle r="15" fill="url(#snowC)"/></g><g transform="translate(709.3,746) scale(0.96)" stroke="#2aa2ea" stroke-width="1.45" stroke-linecap="round" fill="none"><g transform="rotate(30)"><path d="M0,-3.4 L0,-11.6 M0,-4.9 L-2.9,-7.2 M0,-4.9 L2.9,-7.2 M0,-7.3 L-2.8,-9.7 M0,-7.3 L2.8,-9.7 M0,-9.6 L-1.6,-11.2 M0,-9.6 L1.6,-11.2"/></g><g transform="rotate(90)"><path d="M0,-3.4 L0,-11.6 M0,-4.9 L-2.9,-7.2 M0,-4.9 L2.9,-7.2 M0,-7.3 L-2.8,-9.7 M0,-7.3 L2.8,-9.7 M0,-9.6 L-1.6,-11.2 M0,-9.6 L1.6,-11.2"/></g><g transform="rotate(150)"><path d="M0,-3.4 L0,-11.6 M0,-4.9 L-2.9,-7.2 M0,-4.9 L2.9,-7.2 M0,-7.3 L-2.8,-9.7 M0,-7.3 L2.8,-9.7 M0,-9.6 L-1.6,-11.2 M0,-9.6 L1.6,-11.2"/></g><g transform="rotate(210)"><path d="M0,-3.4 L0,-11.6 M0,-4.9 L-2.9,-7.2 M0,-4.9 L2.9,-7.2 M0,-7.3 L-2.8,-9.7 M0,-7.3 L2.8,-9.7 M0,-9.6 L-1.6,-11.2 M0,-9.6 L1.6,-11.2"/></g><g transform="rotate(270)"><path d="M0,-3.4 L0,-11.6 M0,-4.9 L-2.9,-7.2 M0,-4.9 L2.9,-7.2 M0,-7.3 L-2.8,-9.7 M0,-7.3 L2.8,-9.7 M0,-9.6 L-1.6,-11.2 M0,-9.6 L1.6,-11.2"/></g><g transform="rotate(330)"><path d="M0,-3.4 L0,-11.6 M0,-4.9 L-2.9,-7.2 M0,-4.9 L2.9,-7.2 M0,-7.3 L-2.8,-9.7 M0,-7.3 L2.8,-9.7 M0,-9.6 L-1.6,-11.2 M0,-9.6 L1.6,-11.2"/></g><polygon points="3.6,0 1.8,3.1 -1.8,3.1 -3.6,0 -1.8,-3.1 1.8,-3.1" stroke-width="1.5"/></g>
<ellipse cx="856.2" cy="749.8" rx="15" ry="15" fill="#000" opacity=".45" filter="url(#blur2)"/><g transform="translate(855.7,747.3)"><circle r="15" fill="url(#snowC)"/></g><g transform="translate(855.7,747.3) scale(0.96)" stroke="#2aa2ea" stroke-width="1.45" stroke-linecap="round" fill="none"><g transform="rotate(30)"><path d="M0,-3.4 L0,-11.6 M0,-4.9 L-2.9,-7.2 M0,-4.9 L2.9,-7.2 M0,-7.3 L-2.8,-9.7 M0,-7.3 L2.8,-9.7 M0,-9.6 L-1.6,-11.2 M0,-9.6 L1.6,-11.2"/></g><g transform="rotate(90)"><path d="M0,-3.4 L0,-11.6 M0,-4.9 L-2.9,-7.2 M0,-4.9 L2.9,-7.2 M0,-7.3 L-2.8,-9.7 M0,-7.3 L2.8,-9.7 M0,-9.6 L-1.6,-11.2 M0,-9.6 L1.6,-11.2"/></g><g transform="rotate(150)"><path d="M0,-3.4 L0,-11.6 M0,-4.9 L-2.9,-7.2 M0,-4.9 L2.9,-7.2 M0,-7.3 L-2.8,-9.7 M0,-7.3 L2.8,-9.7 M0,-9.6 L-1.6,-11.2 M0,-9.6 L1.6,-11.2"/></g><g transform="rotate(210)"><path d="M0,-3.4 L0,-11.6 M0,-4.9 L-2.9,-7.2 M0,-4.9 L2.9,-7.2 M0,-7.3 L-2.8,-9.7 M0,-7.3 L2.8,-9.7 M0,-9.6 L-1.6,-11.2 M0,-9.6 L1.6,-11.2"/></g><g transform="rotate(270)"><path d="M0,-3.4 L0,-11.6 M0,-4.9 L-2.9,-7.2 M0,-4.9 L2.9,-7.2 M0,-7.3 L-2.8,-9.7 M0,-7.3 L2.8,-9.7 M0,-9.6 L-1.6,-11.2 M0,-9.6 L1.6,-11.2"/></g><g transform="rotate(330)"><path d="M0,-3.4 L0,-11.6 M0,-4.9 L-2.9,-7.2 M0,-4.9 L2.9,-7.2 M0,-7.3 L-2.8,-9.7 M0,-7.3 L2.8,-9.7 M0,-9.6 L-1.6,-11.2 M0,-9.6 L1.6,-11.2"/></g><polygon points="3.6,0 1.8,3.1 -1.8,3.1 -3.6,0 -1.8,-3.1 1.8,-3.1" stroke-width="1.5"/></g>
<text x="148" y="749.8" font-size="14.8" font-weight="bold" fill="#000" text-anchor="start" textLength="35.2" lengthAdjust="spacingAndGlyphs" >2000</text><text x="185.3" y="752.8" font-size="25" font-weight="normal" style="font-family:'DejaVu Sans',sans-serif" textLength="17.4" lengthAdjust="spacingAndGlyphs">→</text><text x="202.8" y="749.8" font-size="14.8" font-weight="bold" fill="#000" text-anchor="start" textLength="35.6" lengthAdjust="spacingAndGlyphs" >1700</text>
<text x="295.3" y="751.3" font-size="14.8" font-weight="bold" fill="#000" text-anchor="start" textLength="79.8" lengthAdjust="spacingAndGlyphs" >1400/1600</text>
<text x="444.4" y="751.6" font-size="14.8" font-weight="bold" fill="#000" text-anchor="start" textLength="35.2" lengthAdjust="spacingAndGlyphs" >1500</text><text x="481.4" y="754.6" font-size="25" font-weight="normal" style="font-family:'DejaVu Sans',sans-serif" textLength="17.4" lengthAdjust="spacingAndGlyphs">→</text><text x="498.9" y="751.6" font-size="14.8" font-weight="bold" fill="#000" text-anchor="start" textLength="35.6" lengthAdjust="spacingAndGlyphs" >1700</text>
<rect x="627.2" y="746.1999999999999" width="4.5" height="2.1" fill="#000"/>
<rect x="773" y="746.1999999999999" width="4.5" height="2.1" fill="#000"/>
<rect x="920.7" y="748.8" width="4.5" height="2.1" fill="#000"/>
<text x="1005.8" y="636.3" font-size="14.6" font-weight="bold" fill="#000" text-anchor="start" textLength="83" lengthAdjust="spacingAndGlyphs" >NECESIDAD</text>
<rect x="997" y="640.5" width="98.7" height="117.6" fill="none" stroke="#222" stroke-width="1" stroke-dasharray="1 1.05"/>
<g transform="translate(1024.8,657.6) scale(0.385)"><ellipse cx="0" cy="14" rx="27" ry="11" fill="#06303c" opacity=".35" filter="url(#blur2)"/><path d="M0,19 L0,40.5" stroke="#f2f2f2" stroke-width="1.6"/><path d="M0,39.5 L0,44.5 Q0,47.8 -3,47.8 Q-5.8,47.8 -5.8,44.2" fill="none" stroke="#222" stroke-width="1.7" stroke-linecap="round"/><path d="M0,0 L0,4" stroke="#ddd" stroke-width="1.2"/><path d="M0,2.6 C-14,2.6 -25,10 -28.3,20 Q-23,15.6 -17,20.8 Q-11.5,16.4 -6,21.6 Q0,17 6,21.6 Q11.5,16.4 17,20.8 Q23,15.6 28.6,20 C25,10 14,2.6 0,2.6Z" fill="#070b0c"/><path d="M0,2.8 C-5,7 -7,14 -6,21.4 Q0,17 6,21.4 C7,14 5,7 0,2.8Z" fill="#1c2b2e" opacity=".8"/><path d="M0,2.8 C-10,5 -16,12 -17,20.6 Q-11.5,16.4 -6,21.4 C-7,14 -5,7 0,2.8Z" fill="#121c1e" opacity=".8"/></g>
<g transform="translate(1024.3,685) scale(0.49)"><path d="M0,6 L-9,40 L9,40Z" fill="#06303c" opacity=".45" filter="url(#blur2)"/><path d="M0,40 L0,52.5 Q0,56.3 -3.3,56.3 Q-6.4,56.3 -6.4,52.5" fill="none" stroke="#222" stroke-width="1.7" stroke-linecap="round"/><path d="M0,0 L0,6" stroke="#222" stroke-width="1.3"/><path d="M0,4 C-3,14 -9,30 -12.3,40.5 L-8,38.6 L-5.5,42.6 L-2,40 L0,44.5 L2,40 L5.5,42.6 L8,38.6 L12.3,40.5 C9,30 3,14 0,4Z" fill="#07090a"/><path d="M0,5 C-1.5,15 -3,30 -2,40 L0,44 L2,40 C3,30 1.5,15 0,5Z" fill="#1f2d30" opacity=".8"/><circle cx="0.6" cy="9.5" r="1" fill="#cfd8da"/></g>
<g transform="translate(1023.6,720) scale(0.46)"><path d="M0,6 L-5,40 L5,40Z" fill="#06303c" opacity=".45" filter="url(#blur2)"/><path d="M0,40 L0,52.2 Q0,56 -3.6,56 Q-7.4,56 -7.4,52" fill="none" stroke="#222" stroke-width="1.7" stroke-linecap="round"/><path d="M0,0 L0,6" stroke="#ccc" stroke-width="1.1"/><path d="M0,3 C-1.5,14 -4.6,30 -6,40.6 L-3.6,42.4 L-1.6,41 L0,43.6 L1.6,41 L3.6,42.4 L6,40.6 C4.6,30 1.5,14 0,3Z" fill="#07090a"/><path d="M0,4 C-0.8,15 -1.6,30 -1.2,41 L0,43 L1.2,41 C1.6,30 0.8,15 0,4Z" fill="#223336" opacity=".85"/></g>
<text x="1045.9" y="673.1" font-size="11.8" font-weight="bold" fill="#000" text-anchor="start" textLength="21.6" lengthAdjust="spacingAndGlyphs" >Alta</text>
<text x="1044.3" y="704.7" font-size="11.8" font-weight="bold" fill="#000" text-anchor="start" textLength="34.5" lengthAdjust="spacingAndGlyphs" >Media</text>
<text x="1044.3" y="734.9" font-size="11.8" font-weight="bold" fill="#000" text-anchor="start" textLength="23.2" lengthAdjust="spacingAndGlyphs" >Baja</text>
<text x="40.4" y="817.7" font-size="16" font-weight="bold" fill="#fff" text-anchor="start" textLength="65.7" lengthAdjust="spacingAndGlyphs" >Leyenda:</text>
<rect x="127.5" y="789.8" width="827" height="38" fill="none" stroke="#dedede" stroke-width="2.4"/>
<rect x="156.3" y="800.4" width="24.4" height="13" fill="#86b4c5"/>
<text x="184.2" y="813.4" font-size="19.5" font-weight="bold" fill="#000" text-anchor="start" textLength="110.5" lengthAdjust="spacingAndGlyphs" >Prob. Lluvia</text>
<line x1="325.6" y1="807.1" x2="350.5" y2="807.1" stroke="#c00000" stroke-width="7.2" stroke-linecap="round"/><circle cx="338.1" cy="807.1" r="4.3" fill="#fff"/>
<text x="354.6" y="813.4" font-size="19.5" font-weight="bold" fill="#000" text-anchor="start" textLength="101.6" lengthAdjust="spacingAndGlyphs" >Tª Máxima</text>
<line x1="487.6" y1="807" x2="512.1" y2="807" stroke="#4f81bd" stroke-width="7.2" stroke-linecap="round"/><circle cx="499.9" cy="807" r="4.3" fill="#fff"/>
<text x="516.5" y="813.4" font-size="19.5" font-weight="bold" fill="#000" text-anchor="start" textLength="98.2" lengthAdjust="spacingAndGlyphs" >Tª Mínima</text>
<path d="M649.4,790.6 L659,790.6 L659,791.6 L650.9,791.6 L650.8,817 L652.8,817 L650.1,826 L647.4,817 L649.3,817Z" fill="#222"/><path d="M650.1,797 L650.1,817" stroke="#999" stroke-width=".8"/>
<text x="673.7" y="819.9" font-size="19.5" font-weight="bold" fill="#000" text-anchor="start" textLength="62.1" lengthAdjust="spacingAndGlyphs" >Viento</text>
<ellipse cx="787.1" cy="812.0" rx="15.4" ry="15.4" fill="#000" opacity=".45" filter="url(#blur2)"/><g transform="translate(786.6,809.5)"><circle r="15.4" fill="url(#snowC)"/></g><g transform="translate(786.6,809.5) scale(0.96)" stroke="#2aa2ea" stroke-width="1.45" stroke-linecap="round" fill="none"><g transform="rotate(30)"><path d="M0,-3.4 L0,-11.6 M0,-4.9 L-2.9,-7.2 M0,-4.9 L2.9,-7.2 M0,-7.3 L-2.8,-9.7 M0,-7.3 L2.8,-9.7 M0,-9.6 L-1.6,-11.2 M0,-9.6 L1.6,-11.2"/></g><g transform="rotate(90)"><path d="M0,-3.4 L0,-11.6 M0,-4.9 L-2.9,-7.2 M0,-4.9 L2.9,-7.2 M0,-7.3 L-2.8,-9.7 M0,-7.3 L2.8,-9.7 M0,-9.6 L-1.6,-11.2 M0,-9.6 L1.6,-11.2"/></g><g transform="rotate(150)"><path d="M0,-3.4 L0,-11.6 M0,-4.9 L-2.9,-7.2 M0,-4.9 L2.9,-7.2 M0,-7.3 L-2.8,-9.7 M0,-7.3 L2.8,-9.7 M0,-9.6 L-1.6,-11.2 M0,-9.6 L1.6,-11.2"/></g><g transform="rotate(210)"><path d="M0,-3.4 L0,-11.6 M0,-4.9 L-2.9,-7.2 M0,-4.9 L2.9,-7.2 M0,-7.3 L-2.8,-9.7 M0,-7.3 L2.8,-9.7 M0,-9.6 L-1.6,-11.2 M0,-9.6 L1.6,-11.2"/></g><g transform="rotate(270)"><path d="M0,-3.4 L0,-11.6 M0,-4.9 L-2.9,-7.2 M0,-4.9 L2.9,-7.2 M0,-7.3 L-2.8,-9.7 M0,-7.3 L2.8,-9.7 M0,-9.6 L-1.6,-11.2 M0,-9.6 L1.6,-11.2"/></g><g transform="rotate(330)"><path d="M0,-3.4 L0,-11.6 M0,-4.9 L-2.9,-7.2 M0,-4.9 L2.9,-7.2 M0,-7.3 L-2.8,-9.7 M0,-7.3 L2.8,-9.7 M0,-9.6 L-1.6,-11.2 M0,-9.6 L1.6,-11.2"/></g><polygon points="3.6,0 1.8,3.1 -1.8,3.1 -3.6,0 -1.8,-3.1 1.8,-3.1" stroke-width="1.5"/></g>
<text x="814" y="818.4" font-size="19.5" font-weight="bold" fill="#000" text-anchor="start" textLength="131.5" lengthAdjust="spacingAndGlyphs" >Cota de Nieve</text>
<path d="M745.8,886.6 C756,881 762,876.5 767,868 C773,858 777,848 784,843.2 C788,840.4 791,839.6 796,840.2 C812,842.6 828,849 846,851.8 C852,852.6 858,853 866,853 L1133.5,852.4 L1133.5,888 L745.8,888Z" fill="#000"/>
<clipPath id="dropClip"><path d="M58.4,17.2 L79.2,42.4 A24.6,24.6 0 1 1 37.4,43 Z"/></clipPath>
<g><path d="M58.4,17.2 L79.2,42.4 A24.6,24.6 0 1 1 37.4,43 Z" fill="#1ab3d8"/><path d="M34.4,9.9 C36.5,14.5 42,17.6 42,21.6 A7.6,7.2 0 0 1 26.8,21.6 C26.8,17.6 32.3,14.5 34.4,9.9Z" fill="#1ab3d8"/>
<g clip-path="url(#dropClip)"><path d="M60,44.4 L90,44.4 L90,90 L50,90 L52,78.5 L57,60Z" fill="#f9b962"/></g>
<path d="M39.4,39.6 L50.6,48.6" stroke="#000" stroke-width="1.3"/>
<path d="M49.1,47.6 L47.8,45.5 L49.5,44.6 L48.2,42.5 L50.3,42.1 L49.5,40.0 L52.0,40.0 L51.6,37.9 L53.7,38.3 L54.1,36.6 L56.2,37.1 L57.5,35.4 L59.6,35.1 L59.0,37.1 L58.3,39.2 L59.0,41.0 L61.3,40.4 L62.5,39.2 L64.2,40.2 L65.9,39.6 L67.2,41.0 L69.3,40.8 L70.1,42.4 L72.2,42.5 L73.1,43.8 L75.2,43.8 L77.7,45.1 L75.6,46.3 L76.0,47.6 L73.9,48.4 L73.9,49.9 L71.8,50.3 L71.4,51.8 L69.7,52.2 L70.1,53.9 L71.4,55.2 L70.9,56.8 L72.6,58.5 L72.2,60.6 L73.9,62.3 L73.5,64.4 L74.7,66.1 L74.3,67.8 L75.3,69.6 L73.1,68.6 L71.8,69.1 L70.1,68.0 L68.4,68.8 L67.2,67.6 L65.1,68.0 L63.8,66.5 L61.7,66.5 L60.4,65.3 L58.7,65.7 L57.6,67.4 L56.6,70.3 L54.9,73.7 L52.8,78.1 L52.0,77.5 L52.4,74.5 L51.6,72.0 L50.1,71.2 L49.5,69.5 L47.8,69.3 L47.2,67.4 L45.5,66.9 L45.3,64.8 L43.6,64.0 L43.8,61.9 L41.9,61.1 L40.6,61.9 L38.8,60.6 L40.6,59.4 L39.8,57.7 L41.5,56.8 L38.5,55.2 L40.6,53.9 L40.6,52.2 L42.5,51.8 L42.3,49.9 L44.4,49.7 L44.8,48.3 L46.9,48.6 L47.8,47.2Z" fill="#000"/><g fill="#f9b962"><ellipse cx="64.3" cy="52.6" rx="1.8" ry="1" transform="rotate(15 64.3 52.6)"/><ellipse cx="56.5" cy="62.3" rx="1" ry="1.9" transform="rotate(-10 56.5 62.3)"/></g></g>
<g transform="translate(770.4,843.3) scale(.605)"><path d="M58.4,17.2 L79.2,42.4 A24.6,24.6 0 1 1 37.4,43 Z M49.1,47.6 L47.8,45.5 L49.5,44.6 L48.2,42.5 L50.3,42.1 L49.5,40.0 L52.0,40.0 L51.6,37.9 L53.7,38.3 L54.1,36.6 L56.2,37.1 L57.5,35.4 L59.6,35.1 L59.0,37.1 L58.3,39.2 L59.0,41.0 L61.3,40.4 L62.5,39.2 L64.2,40.2 L65.9,39.6 L67.2,41.0 L69.3,40.8 L70.1,42.4 L72.2,42.5 L73.1,43.8 L75.2,43.8 L77.7,45.1 L75.6,46.3 L76.0,47.6 L73.9,48.4 L73.9,49.9 L71.8,50.3 L71.4,51.8 L69.7,52.2 L70.1,53.9 L71.4,55.2 L70.9,56.8 L72.6,58.5 L72.2,60.6 L73.9,62.3 L73.5,64.4 L74.7,66.1 L74.3,67.8 L75.3,69.6 L73.1,68.6 L71.8,69.1 L70.1,68.0 L68.4,68.8 L67.2,67.6 L65.1,68.0 L63.8,66.5 L61.7,66.5 L60.4,65.3 L58.7,65.7 L57.6,67.4 L56.6,70.3 L54.9,73.7 L52.8,78.1 L52.0,77.5 L52.4,74.5 L51.6,72.0 L50.1,71.2 L49.5,69.5 L47.8,69.3 L47.2,67.4 L45.5,66.9 L45.3,64.8 L43.6,64.0 L43.8,61.9 L41.9,61.1 L40.6,61.9 L38.8,60.6 L40.6,59.4 L39.8,57.7 L41.5,56.8 L38.5,55.2 L40.6,53.9 L40.6,52.2 L42.5,51.8 L42.3,49.9 L44.4,49.7 L44.8,48.3 L46.9,48.6 L47.8,47.2Z" fill="#b2b2b2" fill-rule="evenodd"/><path d="M34.4,9.9 C36.5,14.5 42,17.6 42,21.6 A7.6,7.2 0 0 1 26.8,21.6 C26.8,17.6 32.3,14.5 34.4,9.9Z" fill="#b2b2b2"/><path d="M39.4,39.6 L50.6,48.6" stroke="#000" stroke-width="1.6"/><g fill="#b2b2b2"><ellipse cx="64.3" cy="52.6" rx="1.8" ry="1" transform="rotate(15 64.3 52.6)"/><ellipse cx="56.5" cy="62.3" rx="1" ry="1.9" transform="rotate(-10 56.5 62.3)"/></g></g>
<text x="82.2" y="42.7" font-size="26.2" fill="#1ab3d8" textLength="120.3" lengthAdjust="spacingAndGlyphs">LA RIOJA</text>
<text x="106.2" y="67.5" font-size="21" fill="#1ab3d8" textLength="74.3" lengthAdjust="spacingAndGlyphs">METEO</text>
<path d="M179.1,49.6 L181.6,53.6 L184.4,52.6 L183.7,57.4 L188.6,56.2 L186.6,61 L188.4,62.4 L183.6,65.6 L180.2,65 L180,69 L178.2,69 L178,65 L174.6,65.6 L169.8,62.4 L171.6,61 L169.6,56.2 L174.5,57.4 L173.8,52.6 L176.6,53.6Z" fill="#000" stroke="#f9b962" stroke-width="1.5" stroke-linejoin="round"/>
<path d="M179.1,58 L179.1,66" stroke="#f9b962" stroke-width="1.3"/>
<text x="251.7" y="49.5" font-size="16.5" font-weight="bold" font-style="italic" fill="#fff" textLength="146.8" lengthAdjust="spacingAndGlyphs">por DANI BENITO</text>
<path d="M355,51.6 C340,51.8 325,52.6 316,53.9 C322,55.5 333,58.5 336,61.4 C322,62.6 306,63.4 292.6,64 C330,64 370,65.6 401,67.3 C394,67.8 386,68.1 379.4,68.3" fill="none" stroke="#fff" stroke-width="1.4" stroke-linecap="round" stroke-linejoin="round"/>
<text y="66.7" font-size="52" font-weight="bold" fill="#fff" stroke="#fff" stroke-width="3" stroke-linejoin="round"><tspan x="530.2" textLength="48.6" lengthAdjust="spacingAndGlyphs">M</tspan><tspan x="579.6" textLength="26.1" lengthAdjust="spacingAndGlyphs">e</tspan><tspan x="607.8" textLength="17.8" lengthAdjust="spacingAndGlyphs">t</tspan><tspan x="627.6" textLength="26.1" lengthAdjust="spacingAndGlyphs">e</tspan><tspan x="655.4" textLength="27.9" lengthAdjust="spacingAndGlyphs">o</tspan><tspan x="684.3" textLength="27.6" lengthAdjust="spacingAndGlyphs">g</tspan><tspan x="711.6" textLength="18.2" lengthAdjust="spacingAndGlyphs">r</tspan><tspan x="731.6" textLength="22.2" lengthAdjust="spacingAndGlyphs">a</tspan><tspan x="758.0" textLength="44.4" lengthAdjust="spacingAndGlyphs">m</tspan><tspan x="804.6" textLength="22.9" lengthAdjust="spacingAndGlyphs">a</tspan></text>
<text y="66.9" font-size="57.5" font-weight="bold" fill="#fff" stroke="#fff" stroke-width="3" stroke-linejoin="round"><tspan x="847.8" textLength="24.6" lengthAdjust="spacingAndGlyphs">L</tspan><tspan x="871.6" textLength="40.7" lengthAdjust="spacingAndGlyphs">O</tspan><tspan x="913.2" textLength="38.2" lengthAdjust="spacingAndGlyphs">G</tspan><tspan x="953.2" textLength="32.2" lengthAdjust="spacingAndGlyphs">R</tspan><tspan x="986.8" textLength="40.2" lengthAdjust="spacingAndGlyphs">O</tspan><tspan x="1029.2" textLength="38.1" lengthAdjust="spacingAndGlyphs">Ñ</tspan><tspan x="1068.7" textLength="41.0" lengthAdjust="spacingAndGlyphs">O</tspan></text>
<text x="825.7" y="880.4" font-size="19.6" fill="#c6c6c6" stroke="#000" stroke-width=".45" textLength="154.6" lengthAdjust="spacingAndGlyphs">LA RIOJA METEO</text>
<path d="M1012.6,881.9 L1012.6,874.3 L1016,874.3 L1016.5,871 L1012.6,871 L1012.6,869.4 C1012.6,868.4 1013.1,868 1014.2,868 L1016.6,868 L1016.6,865.3 C1015.6,865.2 1014.6,865.1 1013.4,865.1 C1010.6,865.1 1009.1,866.7 1009.1,869.2 L1009.1,871 L1005.8,871 L1005.8,874.3 L1009.1,874.3 L1009.1,881.9Z" fill="#c9c9c9" stroke="#c9c9c9" stroke-width=".6"/>
<path d="M1054.3,868.9 C1053.7,869.2 1053,869.4 1052.3,869.5 C1053,869.1 1053.6,868.4 1053.8,867.5 C1053.1,867.9 1052.4,868.2 1051.6,868.4 C1050.9,867.7 1050,867.2 1049,867.2 C1047,867.2 1045.5,868.8 1045.5,870.7 C1045.5,871 1045.5,871.3 1045.6,871.5 C1042.6,871.4 1040,870 1038.3,867.8 C1038,868.4 1037.8,869 1037.8,869.6 C1037.8,870.8 1038.4,871.9 1039.4,872.5 C1038.8,872.5 1038.3,872.3 1037.8,872.1 C1037.8,873.8 1039,875.2 1040.6,875.5 C1040.1,875.7 1039.5,875.7 1039,875.6 C1039.4,877 1040.8,878 1042.3,878 C1041.1,879 1039.6,879.5 1037.9,879.5 C1037.6,879.5 1037.4,879.5 1037.1,879.5 C1038.7,880.5 1040.5,881.1 1042.5,881.1 C1049,881.1 1052.5,875.7 1052.5,871.1 L1052.5,870.6 C1053.2,870.1 1053.8,869.6 1054.3,868.9Z" fill="#c9c9c9"/>
<rect x="1071.6" y="866.4" width="17.4" height="16.2" rx="2.4" fill="#c9c9c9"/><rect x="1073.5" y="872.6" width="13.6" height="8.2" fill="#000"/><circle cx="1080.3" cy="875" r="5.3" fill="#000"/><circle cx="1080.3" cy="875" r="4.1" fill="#c9c9c9"/><circle cx="1080.3" cy="875" r="2.2" fill="#000"/><rect x="1084.2" y="868.2" width="2.6" height="2.4" rx=".8" fill="#000"/>
<rect x="1106.2" y="867.8" width="17" height="11" rx="3" fill="#c9c9c9"/><path d="M1112.8,870.6 L1117.4,873.3 L1112.8,876Z" fill="#000"/>
<text x="1106.4" y="883.4" font-size="3.6" fill="#8a8a8a" textLength="16.6" lengthAdjust="spacingAndGlyphs">YouTube</text>
<g opacity=".07"><g transform="translate(387.6,305.75) scale(.555)"><path d="M58.4,17.2 L79.2,42.4 A24.6,24.6 0 1 1 37.4,43 Z M49.1,47.6 L47.8,45.5 L49.5,44.6 L48.2,42.5 L50.3,42.1 L49.5,40.0 L52.0,40.0 L51.6,37.9 L53.7,38.3 L54.1,36.6 L56.2,37.1 L57.5,35.4 L59.6,35.1 L59.0,37.1 L58.3,39.2 L59.0,41.0 L61.3,40.4 L62.5,39.2 L64.2,40.2 L65.9,39.6 L67.2,41.0 L69.3,40.8 L70.1,42.4 L72.2,42.5 L73.1,43.8 L75.2,43.8 L77.7,45.1 L75.6,46.3 L76.0,47.6 L73.9,48.4 L73.9,49.9 L71.8,50.3 L71.4,51.8 L69.7,52.2 L70.1,53.9 L71.4,55.2 L70.9,56.8 L72.6,58.5 L72.2,60.6 L73.9,62.3 L73.5,64.4 L74.7,66.1 L74.3,67.8 L75.3,69.6 L73.1,68.6 L71.8,69.1 L70.1,68.0 L68.4,68.8 L67.2,67.6 L65.1,68.0 L63.8,66.5 L61.7,66.5 L60.4,65.3 L58.7,65.7 L57.6,67.4 L56.6,70.3 L54.9,73.7 L52.8,78.1 L52.0,77.5 L52.4,74.5 L51.6,72.0 L50.1,71.2 L49.5,69.5 L47.8,69.3 L47.2,67.4 L45.5,66.9 L45.3,64.8 L43.6,64.0 L43.8,61.9 L41.9,61.1 L40.6,61.9 L38.8,60.6 L40.6,59.4 L39.8,57.7 L41.5,56.8 L38.5,55.2 L40.6,53.9 L40.6,52.2 L42.5,51.8 L42.3,49.9 L44.4,49.7 L44.8,48.3 L46.9,48.6 L47.8,47.2Z" fill="#000" fill-rule="evenodd"/><path d="M34.4,9.9 C36.5,14.5 42,17.6 42,21.6 A7.6,7.2 0 0 1 26.8,21.6 C26.8,17.6 32.3,14.5 34.4,9.9Z" fill="#000"/><path d="M39.4,39.6 L50.6,48.6" stroke="#fff" stroke-width="1.6"/></g>
<text x="440.4" y="339.1" font-size="17" font-weight="normal" fill="#000" textLength="137.8" lengthAdjust="spacingAndGlyphs">LA RIOJA METEO</text></g>
</svg>
</body></html>
